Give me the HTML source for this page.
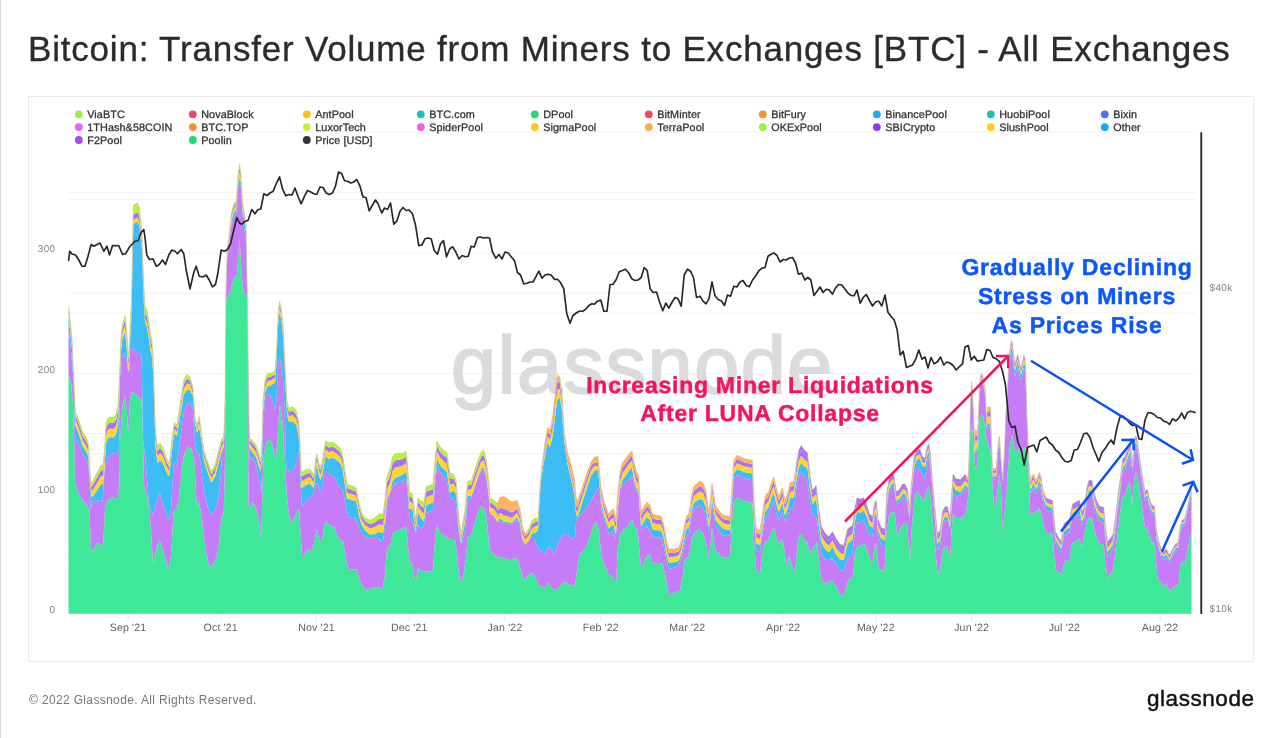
<!DOCTYPE html>
<html><head><meta charset="utf-8"><title>Bitcoin: Transfer Volume from Miners to Exchanges</title>
<style>
html,body{margin:0;padding:0;background:#fff;}
body{width:1280px;height:738px;position:relative;overflow:hidden;font-family:"Liberation Sans",sans-serif;}
#edge{position:absolute;left:0;top:0;width:1px;height:738px;background:#d9d9d9;}
h1{will-change:transform;position:absolute;left:27.9px;top:27.1px;margin:0;font-size:35px;line-height:44px;font-weight:400;color:#2b2b2b;white-space:nowrap;letter-spacing:0.8px;-webkit-text-stroke:0.35px #2b2b2b;}
#card{position:absolute;left:28px;top:96px;width:1224px;height:564px;border:1px solid #ebebeb;box-sizing:content-box;}
#foot{will-change:transform;position:absolute;left:28.5px;top:692.6px;font-size:12px;line-height:15px;color:#757575;letter-spacing:0.35px;white-space:nowrap;}
#logo{will-change:transform;position:absolute;right:25.6px;top:685px;font-size:22.5px;line-height:28px;color:#111;letter-spacing:0.55px;-webkit-text-stroke:0.45px #111;white-space:nowrap;}
svg{position:absolute;left:0;top:0;}
svg text{text-rendering:geometricPrecision;}
.lg{font-size:10.8px;fill:#333;stroke:#333;stroke-width:0.3px;letter-spacing:0.1px;}
.ax{font-size:10.6px;fill:#5f5f5f;letter-spacing:0.15px;}
.ay{font-size:9.9px;fill:#808080;letter-spacing:0.4px;}
.wm{font-size:81px;fill:#dbdbdb;stroke:#dbdbdb;stroke-width:1.9px;letter-spacing:1.5px;}
.red{font-size:23px;font-weight:700;fill:#f5145c;stroke:#f5145c;stroke-width:0.45px;letter-spacing:0.75px;}
.blue{font-size:23px;font-weight:700;fill:#0a57ff;stroke:#0a57ff;stroke-width:0.45px;letter-spacing:0.8px;}
</style></head><body>
<div id="edge"></div>
<h1>Bitcoin: Transfer Volume from Miners to Exchanges [BTC] - All Exchanges</h1>
<div id="card"></div>
<svg width="1280" height="738" viewBox="0 0 1280 738" font-family="Liberation Sans, sans-serif">
<line x1="68.5" x2="1195.5" y1="131.9" y2="131.9" stroke="#f2f2f2" stroke-width="1"/>
<line x1="68.5" x2="1195.5" y1="192.7" y2="192.7" stroke="#f2f2f2" stroke-width="1"/>
<line x1="68.5" x2="1195.5" y1="199.4" y2="199.4" stroke="#f2f2f2" stroke-width="1"/>
<line x1="68.5" x2="1195.5" y1="252.9" y2="252.9" stroke="#f2f2f2" stroke-width="1"/>
<line x1="68.5" x2="1195.5" y1="293" y2="293" stroke="#f2f2f2" stroke-width="1"/>
<line x1="68.5" x2="1195.5" y1="313" y2="313" stroke="#f2f2f2" stroke-width="1"/>
<line x1="68.5" x2="1195.5" y1="373.4" y2="373.4" stroke="#f2f2f2" stroke-width="1"/>
<line x1="68.5" x2="1195.5" y1="433.6" y2="433.6" stroke="#f2f2f2" stroke-width="1"/>
<line x1="68.5" x2="1195.5" y1="453.5" y2="453.5" stroke="#f2f2f2" stroke-width="1"/>
<line x1="68.5" x2="1195.5" y1="493.8" y2="493.8" stroke="#f2f2f2" stroke-width="1"/>
<line x1="68.5" x2="1195.5" y1="553.6" y2="553.6" stroke="#f2f2f2" stroke-width="1"/>
<line x1="68.5" x2="1195.5" y1="613.9" y2="613.9" stroke="#f2f2f2" stroke-width="1"/>
<circle cx="78.8" cy="114.3" r="3.9" fill="#9cf03c"/><text x="87.2" y="118.2" class="lg">ViaBTC</text>
<circle cx="192.8" cy="114.3" r="3.9" fill="#f5475e"/><text x="201.2" y="118.2" class="lg">NovaBlock</text>
<circle cx="306.8" cy="114.3" r="3.9" fill="#ffc107"/><text x="315.2" y="118.2" class="lg">AntPool</text>
<circle cx="420.8" cy="114.3" r="3.9" fill="#14c4b8"/><text x="429.2" y="118.2" class="lg">BTC.com</text>
<circle cx="534.8" cy="114.3" r="3.9" fill="#1ed873"/><text x="543.2" y="118.2" class="lg">DPool</text>
<circle cx="648.8" cy="114.3" r="3.9" fill="#f5475e"/><text x="657.2" y="118.2" class="lg">BitMinter</text>
<circle cx="762.8" cy="114.3" r="3.9" fill="#f98f2d"/><text x="771.2" y="118.2" class="lg">BitFury</text>
<circle cx="876.8" cy="114.3" r="3.9" fill="#1ea8f5"/><text x="885.2" y="118.2" class="lg">BinancePool</text>
<circle cx="990.8" cy="114.3" r="3.9" fill="#14c7aa"/><text x="999.2" y="118.2" class="lg">HuobiPool</text>
<circle cx="1104.8" cy="114.3" r="3.9" fill="#4c70f5"/><text x="1113.2" y="118.2" class="lg">Bixin</text>
<circle cx="78.8" cy="127.1" r="3.9" fill="#f55cea"/><text x="87.2" y="131.0" class="lg">1THash&amp;58COIN</text>
<circle cx="192.8" cy="127.1" r="3.9" fill="#f98f2d"/><text x="201.2" y="131.0" class="lg">BTC.TOP</text>
<circle cx="306.8" cy="127.1" r="3.9" fill="#c8f23a"/><text x="315.2" y="131.0" class="lg">LuxorTech</text>
<circle cx="420.8" cy="127.1" r="3.9" fill="#f55cea"/><text x="429.2" y="131.0" class="lg">SpiderPool</text>
<circle cx="534.8" cy="127.1" r="3.9" fill="#ffc61a"/><text x="543.2" y="131.0" class="lg">SigmaPool</text>
<circle cx="648.8" cy="127.1" r="3.9" fill="#ffa94d"/><text x="657.2" y="131.0" class="lg">TerraPool</text>
<circle cx="762.8" cy="127.1" r="3.9" fill="#9cf03c"/><text x="771.2" y="131.0" class="lg">OKExPool</text>
<circle cx="876.8" cy="127.1" r="3.9" fill="#8b3df5"/><text x="885.2" y="131.0" class="lg">SBICrypto</text>
<circle cx="990.8" cy="127.1" r="3.9" fill="#ffd01a"/><text x="999.2" y="131.0" class="lg">SlushPool</text>
<circle cx="1104.8" cy="127.1" r="3.9" fill="#12a8f5"/><text x="1113.2" y="131.0" class="lg">Other</text>
<circle cx="78.8" cy="140.0" r="3.9" fill="#a349f0"/><text x="87.2" y="143.9" class="lg">F2Pool</text>
<circle cx="192.8" cy="140.0" r="3.9" fill="#1cda78"/><text x="201.2" y="143.9" class="lg">Poolin</text>
<circle cx="306.8" cy="140.0" r="3.9" fill="#333333"/><text x="315.2" y="143.9" class="lg">Price [USD]</text>
<text x="451" y="392.5" class="wm">glassnode</text>
<path d="M68.5,375 L69,375.8 L71,381.8 L73,405 L74.5,450 L75,481.5 L79,494.4 L82.5,500.2 L87,505.2 L89.5,509 L91,547.6 L91.5,553.5 L97,542.8 L103,545.2 L105,509 L107.5,500.2 L111,497.2 L111.5,497.1 L117.5,499.5 L119.5,484 L120,440 L122.5,405 L125,396.2 L127,412.5 L128,430.5 L128.5,430 L130,400 L131.5,392.5 L132,391.4 L135,393.8 L138.5,397.2 L141.5,399.8 L142,408 L143,440 L144,485.2 L145,490.2 L146.5,495 L148.5,503 L149,507 L151,531 L153,562.8 L156.5,548.2 L159,539.8 L159.5,539.8 L168.5,568.2 L169,567.5 L171,555.5 L173.5,513.5 L174,509.1 L176.5,510.1 L177,508.9 L179,497.9 L182,465.3 L185,451.5 L188.5,446.8 L189,446.7 L191.5,448.8 L192,450.1 L194.5,461.5 L196.5,501.5 L197,505.7 L198.5,501 L199,501.6 L201.5,516 L206,552 L208.5,563 L210.5,567.3 L211,567.3 L217,556.5 L219,543.2 L221,519.6 L221.5,516.2 L223.5,514.2 L224,503 L225,459 L226,305 L226.5,299.5 L231,290 L233.5,277.9 L237,275.2 L239.5,239 L242.5,283.9 L244,293.2 L247,296 L247.5,309 L248.5,504 L249,507.3 L249.5,508.5 L252.5,502 L256,508.5 L258.5,518 L261,537 L261.5,529 L263,470 L264,453.8 L266.5,442.2 L269.5,438.8 L272.5,445 L275.5,460 L277.5,440 L279.5,405 L281,409.3 L283,427.5 L286.5,489.3 L287,496.5 L289,514.9 L291,522.3 L291.5,522.8 L294,518.4 L297,511.5 L299,509.3 L299.5,514 L302,556.5 L305,554 L307.5,550.2 L311,551 L311.5,550.4 L313.5,545.8 L314,543.9 L316.5,530.4 L317,530.1 L319.5,540.4 L321.5,541.8 L322,540.1 L324,526 L326,521.5 L326.5,521.4 L329,525.3 L332.5,526.5 L335,527.8 L338,538.5 L341,539 L343.5,543.5 L348,568.8 L348.5,570.2 L351.5,569.5 L356,569 L356.5,569.8 L361,583.2 L365,590.2 L375,587 L379.5,587.8 L380,589 L383,587 L385,574 L387,547.8 L390,546.5 L392.5,534 L395.5,531.5 L400,529 L403.5,527.8 L406,526.2 L406.5,529.1 L409.5,561.5 L412.5,564 L415.5,582.8 L418,567.8 L421,571.2 L421.5,571.5 L424,571 L427.5,571.5 L433,570.2 L435,539 L437,524 L440,532.8 L447,537.8 L451,538.9 L455,539 L456.5,549.2 L459,574.9 L461,581.9 L461.5,581.9 L463.5,574.9 L464,572 L466,556 L468,536.5 L471,535.3 L471.5,534.3 L475,521.5 L479,508.8 L481,506.8 L481.5,506.5 L483.5,506.5 L484,507.5 L486,515.5 L486.5,518.8 L490,550.2 L494,554.2 L497.5,557 L502.5,557.8 L507.5,559 L510,560.2 L517,557.8 L520,566.5 L523.5,579.3 L524,580 L531,573 L531.5,572.9 L533.5,573.9 L534,574.5 L539,585.3 L542.5,586.5 L545,589 L548,582.8 L554,589.9 L554.5,590.2 L557.5,589 L561.5,583.9 L565,582 L568,583.5 L571,585.8 L571.5,586 L575,585.2 L579.5,553.8 L582.5,551.5 L586,546.8 L590,536.5 L593.5,524.8 L594,523.8 L596,522.2 L596.5,522.7 L598.5,528.3 L601.5,557.1 L606,568.4 L608.5,573.5 L609,574.2 L612.5,576.5 L616,583.5 L616.5,577.5 L617.5,551.5 L620,534 L623.5,529.3 L627.5,526.5 L630,521.5 L632,519.5 L634,526.7 L637.5,529 L641,567.3 L641.5,569.6 L646.5,556 L650,555.2 L652.5,562.8 L657.5,562.8 L662.5,563.5 L665,574 L669,594 L669.5,595.1 L674,592.6 L680,590.2 L682.5,576.5 L685,559 L688.5,556.7 L689,555 L691.5,540.8 L693.5,534.8 L694,533.8 L699.5,528.5 L700,530.2 L703,532.8 L706,543.1 L708.5,558.6 L709,557.9 L712,527.8 L715.5,550.2 L722.5,557.8 L730,556.5 L732,521.5 L733.5,504.4 L734,501.2 L737,497.8 L740,498.5 L744,501.1 L752.5,502.8 L754,537.8 L756,567.8 L756.5,571.6 L760,572.8 L762.5,551.5 L765,541.5 L768.5,540.3 L769,539.4 L771.5,531 L773.5,527 L774,527.5 L776,535.5 L778.5,543.2 L779,543.7 L782.5,539 L785,554 L786,564 L786.5,565.5 L788.5,557.5 L789,557.2 L795,574 L797.5,544 L800,534 L802.5,535.2 L805,541.5 L807.5,542.8 L810,554 L813.5,547 L817,541.5 L821,576.9 L821.5,579.3 L825,584 L828.5,581.7 L832.5,580.2 L836.5,587 L840,594 L842.5,596 L845,591.5 L848.5,579.8 L849,578.9 L853,576.5 L855,551.5 L857.5,546.5 L865,544 L870,559 L872.5,561 L875,544 L876,543 L876.5,545.4 L878.5,566.4 L879,569.1 L881.5,570.2 L884.5,570.2 L886.5,532.2 L889,516.1 L891.5,512.7 L894.5,511.5 L897.5,536.5 L900,529 L903.5,524.3 L904,524 L907,523.5 L910,560.2 L912,524 L915,494 L917.5,491.5 L923.5,501.1 L924,500.5 L926.5,490.9 L928.5,486.5 L930.5,496.5 L935,544 L937.5,574 L940,570.2 L942.5,549 L945,546.5 L947.5,546.5 L950,562.8 L951.5,531.1 L953,514 L956,517.5 L956.5,517.8 L959.5,517.8 L960,519 L963,516.5 L966,511.9 L968.5,494.2 L970,442.9 L970.5,428.6 L971,422.8 L971.5,423.2 L972.5,431.2 L975,465 L976,470 L976.5,470 L977.5,465 L978.5,437.5 L979.5,422.5 L980,418.2 L982,414.6 L983.5,417.1 L986.5,438.5 L988,444.5 L990,447.5 L991,456.2 L992,476.7 L994,506.5 L996,502.1 L996.5,499.6 L999,477 L999.5,474.8 L1001,489.3 L1002.5,531.5 L1006.5,492 L1007.5,475 L1009.5,449.2 L1011.5,436.2 L1012,434.4 L1015.5,451.9 L1016,451.8 L1017.5,448.8 L1019.5,450.3 L1021.5,455.3 L1022,455.7 L1023.5,448.7 L1024,447.6 L1025.5,448.1 L1026,449.8 L1027.5,456.2 L1028.5,471.2 L1030,509 L1031,515 L1031.5,516.1 L1033.5,513.1 L1036.5,511.2 L1039.5,507.8 L1046,533 L1046.5,533.9 L1049.5,532.8 L1052.5,534 L1054,553.4 L1056,568.4 L1056.5,570.4 L1058.5,571.4 L1061,574.9 L1061.5,574.1 L1064,563.6 L1066,560.6 L1066.5,560.3 L1069.5,561.5 L1071,546.5 L1071.5,543.8 L1075,541.5 L1079.5,539 L1082,546.5 L1084.5,532.8 L1087,521 L1088.5,518.2 L1089,517.8 L1092,517.8 L1094.5,531.5 L1097,539 L1100,544 L1103.5,544 L1104,547 L1105,559 L1107.5,579 L1110,574 L1113,570.2 L1120.5,509 L1122.5,496.5 L1125,495.2 L1127.5,485.2 L1130,481.5 L1132,504 L1134.5,477.8 L1135.5,472.8 L1136,472.4 L1137.5,477.8 L1140,491.5 L1145,529 L1147.5,526.5 L1149.5,536.5 L1152,541.5 L1154.5,542.8 L1157.5,577.8 L1161.5,584.2 L1163.5,585.8 L1164,585.8 L1166,584.2 L1166.5,584.5 L1170,591.5 L1173,587.8 L1176,585.4 L1178.5,584.1 L1179,581.1 L1180.5,564 L1182.5,561.5 L1185,562.8 L1187.5,551.5 L1190,536.5 L1191,533.5 L1191.5,532.8 L1191.5,613.8 L68.5,613.8Z" fill="#3fe898" />
<path d="M68.5,330 L69,332.2 L71,350.2 L73.5,381.8 L75,435 L76.5,440.5 L87.5,462.5 L89.5,476.5 L90,483.5 L90.5,509 L92.5,501.5 L97.5,500.2 L102.5,501.5 L104.5,471.5 L107.5,457.8 L111,453.8 L111.5,453.5 L115,454 L118.5,451.7 L119.5,439 L120,376.4 L122.5,355 L125,352.5 L127,362.5 L128,372.5 L128.5,371.4 L129,371.6 L130,350 L131.5,347.9 L132,347.7 L135,350 L138.5,353.5 L141.5,356 L142,373 L143,440 L145,455 L149,502.5 L151,510.5 L153,515.2 L156,504.9 L159,492.5 L159.5,492.3 L165.5,511.5 L168.5,519.6 L169,519.1 L171,510.1 L173.5,466.8 L174,462.7 L177,465 L180,440 L184,411.8 L187,403.8 L190,402.5 L193,410 L195,440 L197,455 L199,452.8 L199.5,454.7 L203.5,487.1 L207.5,506.5 L210.5,513.4 L211,513.8 L213.5,511.7 L217.5,504 L220,484 L222.5,449.9 L223.5,447.8 L224,439.9 L224.5,436.5 L225,410.2 L226,299.6 L227,262.5 L231.5,224.2 L233.5,218.2 L234,217.2 L236,215.2 L236.5,211.4 L238,190 L239.5,177.8 L241,188.2 L242.5,215 L246,242.9 L247.5,309 L249,437 L249.5,458.9 L252.5,457.8 L256,463.6 L260,484 L261,491 L261.5,486.8 L262,475 L263,425 L265,400 L267.5,393.8 L271,394.9 L271.5,396 L275,410 L276.5,400 L278,365 L279.5,357.5 L281,361.8 L283,377.8 L285,420 L286,457.2 L286.5,467 L289,471.6 L291,472.6 L291.5,472.4 L294,468.3 L297.5,459 L299.5,449 L300.5,484 L302,506.5 L305,501.5 L307.5,499 L311,497.8 L311.5,497.2 L313.5,493.2 L315.5,484 L317.5,482.8 L320,491.5 L321.5,490.4 L324,475.9 L326,471.6 L326.5,471.3 L329,474.1 L332.5,475.2 L335,477.8 L338,485.2 L341,487.6 L341.5,488.2 L343.5,492.2 L346.5,509.9 L348.5,516.6 L351.5,517.8 L356,518.9 L361,532.1 L361.5,533 L365,537 L370,538.5 L375,537.8 L379.5,538.5 L380,541.5 L383,541 L385,526.5 L387,501.5 L390,492.8 L392.5,486.5 L395.5,483.5 L406,479.1 L406.5,481.5 L407.5,491.5 L409.5,516.5 L412.5,521.5 L415.5,534 L418,524 L421,528.2 L421.5,528.3 L423.5,526.7 L424,525.1 L426,514.1 L426.5,512.7 L430,511.5 L433,509 L435,484 L437,465.2 L440,471.5 L443.5,476.2 L447,481.5 L450,497.8 L453.5,498.9 L456,503.5 L459,535.1 L461,544.1 L461.5,544.5 L462.5,541.5 L465,530.2 L467.5,502.8 L471,498.1 L471.5,497 L479,474.8 L481,470.8 L481.5,470.2 L483.5,470.2 L484,471 L486,477 L486.5,479.6 L488.5,494.6 L490,513.8 L492,514.8 L495.5,518.3 L497.5,522 L498,521.2 L498.5,521 L500,522 L507.5,523.5 L510,524.5 L512.5,523.5 L517,520.2 L520,527.8 L522.5,540.2 L525,545.2 L528.5,540.9 L531,536.9 L531.5,536.8 L534,539.5 L539,549.2 L542.5,551.5 L545,554 L548,546.5 L551,548.8 L554,553.6 L554.5,553.2 L557.5,544 L561.5,536.3 L565,534 L568,535.2 L571,538.2 L571.5,538.5 L575,537.8 L576,522.8 L576.5,519 L577.5,519 L580,515.2 L584,511.2 L587.5,506.5 L591,500.7 L598,487.8 L599.5,491.5 L601.5,507.8 L603.5,517.8 L608.5,533.2 L609,533.8 L611,531.8 L611.5,531.6 L613.5,532.6 L615.5,538.2 L616,535.2 L617.5,513.1 L620,490.2 L622.5,485.2 L630,477.8 L632,476.5 L636,489.5 L638.5,493.6 L641,527 L641.5,530 L644,527.6 L647,526 L650,530.2 L652.5,536.5 L661,537.7 L661.5,538.5 L663.5,544.5 L666.5,560 L668.5,568 L669,568.9 L674,567.6 L678.5,565.4 L679,564.6 L681.5,557.8 L683.5,547.8 L686,537.5 L686.5,536.3 L689,534.2 L691.5,514.6 L694,508.8 L699.5,505.2 L700,506.5 L703,507.8 L706,515.8 L708.5,531.1 L709,530.8 L712,504 L715.5,525.2 L719,530.6 L722.5,535.2 L726,536 L730,535.2 L733.5,484.9 L734,481 L737,475.2 L740,475.2 L744,477.8 L748.5,479.4 L752.5,480.2 L754,517.6 L756,546.6 L756.5,550.3 L760,551.5 L762.5,534 L765,519 L768.5,514.3 L773.5,500.9 L774,501.5 L776.5,513.5 L778.5,519.5 L779,519.7 L782.5,511.5 L785,521.5 L787.5,516.5 L790,507.8 L793.5,508.9 L794,507 L796.5,487.6 L798.5,476.6 L799,475 L801,473 L801.5,473 L804.5,476.5 L807.5,481.5 L810,501.5 L812.5,514 L816,516.3 L816.5,518.2 L821.5,554.3 L825,559 L828.5,560.2 L832.5,559 L836,563.7 L840,570.2 L843.5,570.2 L844,569.5 L847.5,559 L852.5,554 L855,529 L857,521.5 L860,522.8 L863.5,520.4 L864,520.9 L869.5,535.2 L872.5,536.5 L874.5,516.5 L876,512.2 L876.5,514.7 L878,534 L881,544.4 L881.5,545.3 L885,546.5 L886.5,508.5 L889,492.2 L891.5,487.6 L893.5,486.6 L894,488.1 L896,501.1 L896.5,502.9 L898.5,503.9 L899,503.6 L902.5,497.8 L905,497.8 L907.5,504 L909.5,519 L911.5,491.8 L913.5,473.8 L914,471.1 L916,468.1 L916.5,467.8 L920,469 L922.5,475.2 L925,479 L927,463.1 L928.5,457.8 L930.5,466.5 L937.5,550.2 L940,546.5 L942.5,524 L945,520.2 L947.5,520.2 L950,527.8 L953,492.8 L956,496.2 L956.5,496.4 L959.5,495.2 L960,495.5 L965,488.3 L968,490.4 L969.5,452.8 L970.5,405.2 L971.5,388.6 L972.5,398.7 L973.5,418.9 L974.5,457.6 L975.5,450.6 L976,450.5 L977,452.5 L977.5,448.1 L979.5,393.1 L980.5,383.6 L981,382.1 L981.5,381.8 L983,385.2 L984,389 L985.5,399.5 L986.5,430 L987,424.9 L987.5,424.6 L988,427.1 L989.5,426.4 L990.5,427.4 L992.5,475.3 L993,478.9 L993.5,479.7 L995,479.5 L996,478.7 L996.5,475 L998,452.8 L999,444.5 L999.5,442.9 L1002,477.5 L1003,481.5 L1004.5,453.4 L1006,414.5 L1006.5,414.5 L1007,410.6 L1008,382.8 L1009.5,365.8 L1010.5,357.4 L1011.5,353 L1012.5,356.4 L1014,370 L1015,376.2 L1017.5,367.6 L1018,368 L1020,377.5 L1020.5,379.1 L1021,379.7 L1021.5,378.8 L1024,367.5 L1025,371.2 L1025.5,377.1 L1027,427.5 L1029,471.9 L1029.5,482.5 L1030.5,492.5 L1031,493.4 L1032,490.4 L1033.5,488.2 L1034,488.6 L1035.5,493.3 L1036,493.2 L1037.5,490.9 L1039,486.2 L1039.5,485.3 L1041,489.6 L1042.5,498.8 L1043.5,503.3 L1046,509.2 L1046.5,509.9 L1049.5,511.5 L1052.5,512.2 L1055.5,543.5 L1058.5,549.3 L1061,553.1 L1061.5,551.8 L1063.5,538.1 L1064,536.1 L1066.5,534 L1069.5,532.1 L1072.5,517.5 L1079.5,514.4 L1082,525.7 L1084,521.4 L1087,501.2 L1088.5,495.7 L1089,494.8 L1092,494.9 L1094.5,508.8 L1097,516.4 L1100,521.5 L1103.5,522.2 L1104,525.1 L1105,536.6 L1107.5,556.4 L1110,553.6 L1113,548.2 L1115.5,530.5 L1118,507.7 L1120.5,489.9 L1122.5,472.2 L1125,469.2 L1128,461.1 L1130.5,455.5 L1132.5,472.5 L1134.5,450.9 L1135.5,446.5 L1136,446.2 L1137.5,451.4 L1142.5,486.1 L1145,500.9 L1147.5,498.2 L1149.5,508 L1152,514.2 L1154.5,515.3 L1156.5,538.9 L1158.5,548.8 L1161,556.6 L1161.5,557.6 L1163.5,559.5 L1164,559.4 L1166,557.3 L1166.5,557.5 L1169.5,563 L1172.5,556.6 L1175.5,551.3 L1178,549.8 L1180,533.4 L1182,527 L1184.5,525.5 L1187.5,512.3 L1190,499.2 L1191,496 L1191.5,495.3 L1191.5,532.8 L1191,533.5 L1190,536.5 L1187.5,551.5 L1185,562.8 L1182.5,561.5 L1180.5,564 L1179,581.1 L1178.5,584.1 L1176,585.4 L1173,587.8 L1170,591.5 L1166.5,584.5 L1166,584.2 L1164,585.8 L1163.5,585.8 L1161.5,584.2 L1157.5,577.8 L1154.5,542.8 L1152,541.5 L1149.5,536.5 L1147.5,526.5 L1145,529 L1140,491.5 L1137.5,477.8 L1136,472.4 L1135.5,472.8 L1134.5,477.8 L1132,504 L1130,481.5 L1127.5,485.2 L1125,495.2 L1122.5,496.5 L1120.5,509 L1113,570.2 L1110,574 L1107.5,579 L1105,559 L1104,547 L1103.5,544 L1100,544 L1097,539 L1094.5,531.5 L1092,517.8 L1089,517.8 L1088.5,518.2 L1087,521 L1084.5,532.8 L1082,546.5 L1079.5,539 L1075,541.5 L1071.5,543.8 L1071,546.5 L1069.5,561.5 L1066.5,560.3 L1066,560.6 L1064,563.6 L1061.5,574.1 L1061,574.9 L1058.5,571.4 L1056.5,570.4 L1056,568.4 L1054,553.4 L1052.5,534 L1049.5,532.8 L1046.5,533.9 L1046,533 L1039.5,507.8 L1036.5,511.2 L1033.5,513.1 L1031.5,516.1 L1031,515 L1030,509 L1028.5,471.2 L1027.5,456.2 L1026,449.8 L1025.5,448.1 L1024,447.6 L1023.5,448.7 L1022,455.7 L1021.5,455.3 L1019.5,450.3 L1017.5,448.8 L1016,451.8 L1015.5,451.9 L1012,434.4 L1011.5,436.2 L1009.5,449.2 L1007.5,475 L1006.5,492 L1002.5,531.5 L1001,489.3 L999.5,474.8 L999,477 L996.5,499.6 L996,502.1 L994,506.5 L992,476.7 L991,456.2 L990,447.5 L988,444.5 L986.5,438.5 L983.5,417.1 L982,414.6 L980,418.2 L979.5,422.5 L978.5,437.5 L977.5,465 L976.5,470 L976,470 L975,465 L972.5,431.2 L971.5,423.2 L971,422.8 L970.5,428.6 L970,442.9 L968.5,494.2 L966,511.9 L963,516.5 L960,519 L959.5,517.8 L956.5,517.8 L956,517.5 L953,514 L951.5,531.1 L950,562.8 L947.5,546.5 L945,546.5 L942.5,549 L940,570.2 L937.5,574 L935,544 L930.5,496.5 L928.5,486.5 L926.5,490.9 L924,500.5 L923.5,501.1 L917.5,491.5 L915,494 L912,524 L910,560.2 L907,523.5 L904,524 L903.5,524.3 L900,529 L897.5,536.5 L894.5,511.5 L891.5,512.7 L889,516.1 L886.5,532.2 L884.5,570.2 L881.5,570.2 L879,569.1 L878.5,566.4 L876.5,545.4 L876,543 L875,544 L872.5,561 L870,559 L865,544 L857.5,546.5 L855,551.5 L853,576.5 L849,578.9 L848.5,579.8 L845,591.5 L842.5,596 L840,594 L836.5,587 L832.5,580.2 L828.5,581.7 L825,584 L821.5,579.3 L821,576.9 L817,541.5 L813.5,547 L810,554 L807.5,542.8 L805,541.5 L802.5,535.2 L800,534 L797.5,544 L795,574 L789,557.2 L788.5,557.5 L786.5,565.5 L786,564 L785,554 L782.5,539 L779,543.7 L778.5,543.2 L776,535.5 L774,527.5 L773.5,527 L771.5,531 L769,539.4 L768.5,540.3 L765,541.5 L762.5,551.5 L760,572.8 L756.5,571.6 L756,567.8 L754,537.8 L752.5,502.8 L744,501.1 L740,498.5 L737,497.8 L734,501.2 L733.5,504.4 L732,521.5 L730,556.5 L722.5,557.8 L715.5,550.2 L712,527.8 L709,557.9 L708.5,558.6 L706,543.1 L703,532.8 L700,530.2 L699.5,528.5 L694,533.8 L693.5,534.8 L691.5,540.8 L689,555 L688.5,556.7 L685,559 L682.5,576.5 L680,590.2 L674,592.6 L669.5,595.1 L669,594 L665,574 L662.5,563.5 L657.5,562.8 L652.5,562.8 L650,555.2 L646.5,556 L641.5,569.6 L641,567.3 L637.5,529 L634,526.7 L632,519.5 L630,521.5 L627.5,526.5 L623.5,529.3 L620,534 L617.5,551.5 L616.5,577.5 L616,583.5 L612.5,576.5 L609,574.2 L608.5,573.5 L606,568.4 L601.5,557.1 L598.5,528.3 L596.5,522.7 L596,522.2 L594,523.8 L593.5,524.8 L590,536.5 L586,546.8 L582.5,551.5 L579.5,553.8 L575,585.2 L571.5,586 L571,585.8 L568,583.5 L565,582 L561.5,583.9 L557.5,589 L554.5,590.2 L554,589.9 L548,582.8 L545,589 L542.5,586.5 L539,585.3 L534,574.5 L533.5,573.9 L531.5,572.9 L531,573 L524,580 L523.5,579.3 L520,566.5 L517,557.8 L510,560.2 L507.5,559 L502.5,557.8 L497.5,557 L494,554.2 L490,550.2 L486.5,518.8 L486,515.5 L484,507.5 L483.5,506.5 L481.5,506.5 L481,506.8 L479,508.8 L475,521.5 L471.5,534.3 L471,535.3 L468,536.5 L466,556 L464,572 L463.5,574.9 L461.5,581.9 L461,581.9 L459,574.9 L456.5,549.2 L455,539 L451,538.9 L447,537.8 L440,532.8 L437,524 L435,539 L433,570.2 L427.5,571.5 L424,571 L421.5,571.5 L421,571.2 L418,567.8 L415.5,582.8 L412.5,564 L409.5,561.5 L406.5,529.1 L406,526.2 L403.5,527.8 L400,529 L395.5,531.5 L392.5,534 L390,546.5 L387,547.8 L385,574 L383,587 L380,589 L379.5,587.8 L375,587 L365,590.2 L361,583.2 L356.5,569.8 L356,569 L351.5,569.5 L348.5,570.2 L348,568.8 L343.5,543.5 L341,539 L338,538.5 L335,527.8 L332.5,526.5 L329,525.3 L326.5,521.4 L326,521.5 L324,526 L322,540.1 L321.5,541.8 L319.5,540.4 L317,530.1 L316.5,530.4 L314,543.9 L313.5,545.8 L311.5,550.4 L311,551 L307.5,550.2 L305,554 L302,556.5 L299.5,514 L299,509.3 L297,511.5 L294,518.4 L291.5,522.8 L291,522.3 L289,514.9 L287,496.5 L286.5,489.3 L283,427.5 L281,409.3 L279.5,405 L277.5,440 L275.5,460 L272.5,445 L269.5,438.8 L266.5,442.2 L264,453.8 L263,470 L261.5,529 L261,537 L258.5,518 L256,508.5 L252.5,502 L249.5,508.5 L249,507.3 L248.5,504 L247.5,309 L247,296 L244,293.2 L242.5,283.9 L239.5,239 L237,275.2 L233.5,277.9 L231,290 L226.5,299.5 L226,305 L225,459 L224,503 L223.5,514.2 L221.5,516.2 L221,519.6 L219,543.2 L217,556.5 L211,567.3 L210.5,567.3 L208.5,563 L206,552 L201.5,516 L199,501.6 L198.5,501 L197,505.7 L196.5,501.5 L194.5,461.5 L192,450.1 L191.5,448.8 L189,446.7 L188.5,446.8 L185,451.5 L182,465.3 L179,497.9 L177,508.9 L176.5,510.1 L174,509.1 L173.5,513.5 L171,555.5 L169,567.5 L168.5,568.2 L159.5,539.8 L159,539.8 L156.5,548.2 L153,562.8 L151,531 L149,507 L148.5,503 L146.5,495 L145,490.2 L144,485.2 L143,440 L142,408 L141.5,399.8 L138.5,397.2 L135,393.8 L132,391.4 L131.5,392.5 L130,400 L128.5,430 L128,430.5 L127,412.5 L125,396.2 L122.5,405 L120,440 L119.5,484 L117.5,499.5 L111.5,497.1 L111,497.2 L107.5,500.2 L105,509 L103,545.2 L97,542.8 L91.5,553.5 L91,547.6 L89.5,509 L87,505.2 L82.5,500.2 L79,494.4 L75,481.5 L74.5,450 L73,405 L71,381.8 L69,375.8 L68.5,375Z" fill="#c67cf6" />
<path d="M68.5,317.2 L69,319.7 L72,348.5 L75.5,425.8 L76,427.4 L77.5,430.4 L83,447 L85.5,450.6 L88,455.7 L90,483.5 L91.5,496.5 L93,496.5 L101,484 L101.5,483.7 L103,484.5 L104.5,468.4 L106,443.7 L107.5,438.5 L110,437 L113.5,437.5 L114,437.1 L116,434.1 L117,430 L118,423.8 L119.5,392 L121,350.7 L122.5,338.2 L125,332.5 L126.5,344.8 L128,367.6 L129,371.6 L130.5,333.7 L131.5,318.3 L133,238.9 L133.5,225.5 L134,223.4 L135,223.1 L137.5,221.5 L139.5,226.2 L142,250.1 L143.5,296.7 L145,322.2 L147,327 L148.5,335.6 L150.5,351 L152,357 L153,371 L153.5,383 L155.5,447 L157.5,463.2 L160,460 L163,463.2 L166,471.1 L169,476.2 L169.5,474.2 L172,450.4 L174,435.6 L174.5,433.9 L177,436 L183.5,395.9 L184,394.1 L187,390.2 L190,389.7 L193,396.8 L195,424.6 L196,427.2 L197,432.7 L199,427.7 L199.5,429.3 L202,444 L204,460.8 L207.5,472 L211,482.1 L211.5,482.4 L215,477 L221,453.8 L221.5,452.1 L223.5,447.8 L224,439.9 L225,410.2 L226,299.6 L227,259 L228.5,248.3 L231.5,220.6 L233.5,213.6 L234,212.4 L236,209.4 L236.5,205.4 L238,184 L239.5,177.8 L241,182.4 L242.5,208.7 L246,231.2 L247.5,309 L249,428.5 L249.5,447.6 L252,452 L256,456.8 L260.5,471.5 L261,468.3 L262,452.3 L263,412.4 L265,392.4 L267.5,386.2 L271,385.3 L275,382.8 L276.5,361.3 L278,326.1 L279.5,312.4 L281,318.1 L281.5,321.4 L283,334.9 L287,414.2 L288.5,420.6 L289,421.6 L292.5,421.3 L296,424.6 L298.5,434.1 L300,455.2 L301,481.3 L301.5,487.7 L310,483.2 L313.5,487.9 L314,486.1 L315.5,472.7 L316.5,466.8 L317,466.4 L319,476 L320.5,480.3 L322.5,474 L325.5,455.7 L329,458.9 L332.5,457.6 L336,459.5 L340,462.8 L342.5,468.4 L347,498.4 L356,501.2 L356.5,502.6 L359,515.7 L361.5,524.8 L365,530.2 L370,534.6 L375,533.9 L379.5,531.3 L380,532 L383,533.2 L385,519.9 L387,498.6 L390,492.8 L392.5,481.3 L395.5,477.4 L400,475.9 L403.5,474.1 L406,471.7 L406.5,473.7 L407.5,483.2 L409.5,508.9 L412.5,508.7 L415.5,531.8 L418,512.3 L421,517.9 L423.5,521 L424,519.9 L426,506.8 L426.5,505 L433,502.2 L435,477.1 L437,459 L440,465 L443.5,469 L447,472.3 L450,492.8 L453.5,490.7 L454,491 L456,494.2 L456.5,498 L459,530.1 L461,542.2 L461.5,542.3 L462.5,534.9 L465,521.4 L467.5,495.4 L471,496.3 L471.5,495.6 L478.5,475.4 L481,469.3 L481.5,468.6 L483.5,467.8 L484,468.6 L486,475.1 L486.5,477.9 L488.5,493.4 L490,513.8 L494,515.5 L497.5,522 L500,518 L504,521.6 L507.5,521.6 L510,522.8 L512,522.5 L512.5,522.3 L517,516.9 L520,523.1 L522.5,538.6 L525,544 L528.5,540.9 L532,533.4 L535,532.8 L538,530.3 L540,495.3 L541,482.6 L542,473.6 L545,455.2 L547.5,442.5 L550,447.2 L552.5,437 L557,401.1 L558,398.8 L560,397.9 L562,411.2 L564,439.2 L567.5,464.6 L570,474.2 L574.5,494.8 L576,513.6 L577.5,517.6 L587.5,486.1 L591,476 L594.5,470.3 L598,470.2 L601,499.5 L601.5,503.1 L604,515.4 L608.5,528.3 L609,528.6 L611.5,525.6 L613.5,525 L614,526.2 L615.5,534 L616,532.1 L617.5,513.1 L620,488.6 L622.5,480.2 L630,469.6 L632,467.8 L634,478.9 L636,486.5 L636.5,487.8 L638.5,490.4 L639,494.9 L640,511.7 L641,523.5 L641.5,526 L644,521.2 L647,517 L650,520.2 L652.5,529 L656,530.2 L661,530.5 L661.5,531.3 L663.5,537.5 L666.5,554 L668.5,561.8 L669,562.8 L674,562.3 L678.5,560.9 L679,560.1 L681.5,553.1 L686,530.2 L686.5,528.9 L689,526.9 L691.5,510.5 L693.5,503.4 L694,502.4 L700,499 L703,500.1 L706,507.5 L708.5,525.6 L709,525.7 L710.5,514.7 L712,498.1 L715.5,519.8 L718.5,523.7 L722.5,528.2 L726,529.6 L730,530.2 L733.5,477.4 L734,473.6 L737,469 L744,471.9 L752.5,473.4 L754,513.2 L756,539.8 L756.5,543.2 L760,545.2 L765,511.9 L768.5,507.4 L771.5,497.9 L773.5,493.1 L774,493.6 L776,502.5 L778.5,511.3 L779,511.5 L782.5,503.1 L785,515.4 L787.5,509.1 L790,498.3 L793.5,497.7 L794,496 L796,482.4 L798.5,468.7 L799,466.9 L801,463.2 L801.5,463 L804.5,466.6 L807.5,468 L810,489.7 L812.5,504.1 L816,500 L816.5,502.2 L819,525.7 L821.5,542.3 L825,548.8 L828.5,552.1 L829,552 L832.5,547.1 L836.5,554.7 L840,559.2 L843.5,560.2 L844,559.2 L847.5,543.7 L852.5,539.6 L855,520.6 L857,511.7 L860,512.8 L863.5,510.8 L864,511.1 L866.5,515.9 L869.5,525.6 L872.5,527.5 L874.5,515 L876,511.1 L876.5,513.3 L878,530 L881,538.1 L881.5,538.8 L885,540 L886.5,505.4 L888.5,490.9 L889,488.6 L891,485.1 L893.5,483 L894,484.5 L896,498.7 L896.5,500.4 L898.5,499.6 L899,499.2 L902.5,493.7 L905,494 L907.5,499 L909.5,516.5 L911.5,491.5 L913.5,471.5 L914,468.1 L916,461.1 L916.5,460.1 L920,458.6 L922.5,465.8 L925,466.8 L927,455.9 L928.5,451.6 L930.5,463.1 L932.5,490.9 L937.5,544 L940,540.2 L942.5,521.5 L945,516.5 L947.5,516.6 L950,527.1 L953,485.2 L956,490.3 L956.5,490.8 L959.5,491.4 L960,492.5 L965,485.3 L968,487.4 L969.5,449.8 L970.5,402.2 L971.5,385.6 L972.5,395.7 L973.5,415.9 L974.5,454.6 L975.5,447.6 L976,447.5 L977,449.5 L977.5,445.1 L979.5,390.1 L980.5,380.6 L981,379.1 L981.5,378.8 L983,382.2 L984,386 L985.5,396.5 L986.5,427 L987,421.9 L987.5,421.6 L988,424.1 L989.5,423.4 L990.5,424.4 L992.5,472.3 L993,475.9 L993.5,476.7 L995,476.5 L996,475.7 L996.5,472 L998,449.8 L999,441.5 L999.5,439.9 L1002,474.5 L1003,478.5 L1004.5,450.4 L1006,411.5 L1006.5,411.5 L1007,407.6 L1008,379.8 L1009.5,360.9 L1010.5,351.9 L1011.5,347.5 L1012.5,350.9 L1014,364.5 L1015,370.8 L1017.5,362.1 L1018,362.5 L1020,372 L1020.5,373.6 L1021,374.2 L1021.5,373.2 L1024,362 L1025,365.8 L1025.5,371.6 L1027,422 L1029,467.4 L1029.5,478 L1030.5,488 L1031,488.9 L1032,485.9 L1033.5,483.7 L1034,484.1 L1035.5,488.8 L1036,488.7 L1037.5,486.4 L1039,481.7 L1039.5,480.8 L1041,485.1 L1042.5,494.3 L1043.5,498.8 L1046,504.7 L1046.5,505.4 L1049.5,507 L1052.5,507.8 L1055.5,539 L1058.5,544.8 L1061,548.6 L1061.5,547.3 L1063.5,533.6 L1064,531.6 L1066.5,529.5 L1069.5,527.6 L1072.5,513 L1079.5,509.9 L1082,521.2 L1084,516.9 L1087,496.7 L1088.5,491.2 L1089,490.2 L1092,490.4 L1094.5,504.3 L1097,511.9 L1100,517 L1103.5,517.7 L1104,520.6 L1105,532.1 L1107.5,551.9 L1110,549.1 L1113,543.8 L1115.5,526 L1118,503.2 L1120.5,485.4 L1122.5,467.7 L1125,464.7 L1128,456.6 L1130.5,451.1 L1132.5,468.2 L1134.5,446.8 L1135.5,442.4 L1136,442.1 L1137.5,447.5 L1142.5,482.5 L1145,497.5 L1147.5,495 L1149.5,505 L1152,511.2 L1154.5,512.4 L1156.5,536 L1158.5,545.9 L1161,553.8 L1161.5,554.7 L1163.5,556.6 L1164,556.6 L1166,554.5 L1166.5,554.7 L1169.5,560.3 L1172.5,553.8 L1175.5,548.6 L1178,547.2 L1180,530.8 L1182,524.4 L1184.5,522.9 L1187.5,509.8 L1190,496.7 L1191,493.5 L1191.5,492.8 L1191.5,495.3 L1191,496 L1190,499.2 L1187.5,512.3 L1184.5,525.5 L1182,527 L1180,533.4 L1178,549.8 L1175.5,551.3 L1172.5,556.6 L1169.5,563 L1166.5,557.5 L1166,557.3 L1164,559.4 L1163.5,559.5 L1161.5,557.6 L1161,556.6 L1158.5,548.8 L1156.5,538.9 L1154.5,515.3 L1152,514.2 L1149.5,508 L1147.5,498.2 L1145,500.9 L1142.5,486.1 L1137.5,451.4 L1136,446.2 L1135.5,446.5 L1134.5,450.9 L1132.5,472.5 L1130.5,455.5 L1128,461.1 L1125,469.2 L1122.5,472.2 L1120.5,489.9 L1118,507.7 L1115.5,530.5 L1113,548.2 L1110,553.6 L1107.5,556.4 L1105,536.6 L1104,525.1 L1103.5,522.2 L1100,521.5 L1097,516.4 L1094.5,508.8 L1092,494.9 L1089,494.8 L1088.5,495.7 L1087,501.2 L1084,521.4 L1082,525.7 L1079.5,514.4 L1072.5,517.5 L1069.5,532.1 L1066.5,534 L1064,536.1 L1063.5,538.1 L1061.5,551.8 L1061,553.1 L1058.5,549.3 L1055.5,543.5 L1052.5,512.2 L1049.5,511.5 L1046.5,509.9 L1046,509.2 L1043.5,503.3 L1042.5,498.8 L1041,489.6 L1039.5,485.3 L1039,486.2 L1037.5,490.9 L1036,493.2 L1035.5,493.3 L1034,488.6 L1033.5,488.2 L1032,490.4 L1031,493.4 L1030.5,492.5 L1029.5,482.5 L1029,471.9 L1027,427.5 L1025.5,377.1 L1025,371.2 L1024,367.5 L1021.5,378.8 L1021,379.7 L1020.5,379.1 L1020,377.5 L1018,368 L1017.5,367.6 L1015,376.2 L1014,370 L1012.5,356.4 L1011.5,353 L1010.5,357.4 L1009.5,365.8 L1008,382.8 L1007,410.6 L1006.5,414.5 L1006,414.5 L1004.5,453.4 L1003,481.5 L1002,477.5 L999.5,442.9 L999,444.5 L998,452.8 L996.5,475 L996,478.7 L995,479.5 L993.5,479.7 L993,478.9 L992.5,475.3 L990.5,427.4 L989.5,426.4 L988,427.1 L987.5,424.6 L987,424.9 L986.5,430 L985.5,399.5 L984,389 L983,385.2 L981.5,381.8 L981,382.1 L980.5,383.6 L979.5,393.1 L977.5,448.1 L977,452.5 L976,450.5 L975.5,450.6 L974.5,457.6 L973.5,418.9 L972.5,398.7 L971.5,388.6 L970.5,405.2 L969.5,452.8 L968,490.4 L965,488.3 L960,495.5 L959.5,495.2 L956.5,496.4 L956,496.2 L953,492.8 L950,527.8 L947.5,520.2 L945,520.2 L942.5,524 L940,546.5 L937.5,550.2 L930.5,466.5 L928.5,457.8 L927,463.1 L925,479 L922.5,475.2 L920,469 L916.5,467.8 L916,468.1 L914,471.1 L913.5,473.8 L911.5,491.8 L909.5,519 L907.5,504 L905,497.8 L902.5,497.8 L899,503.6 L898.5,503.9 L896.5,502.9 L896,501.1 L894,488.1 L893.5,486.6 L891.5,487.6 L889,492.2 L886.5,508.5 L885,546.5 L881.5,545.3 L881,544.4 L878,534 L876.5,514.7 L876,512.2 L874.5,516.5 L872.5,536.5 L869.5,535.2 L864,520.9 L863.5,520.4 L860,522.8 L857,521.5 L855,529 L852.5,554 L847.5,559 L844,569.5 L843.5,570.2 L840,570.2 L836,563.7 L832.5,559 L828.5,560.2 L825,559 L821.5,554.3 L816.5,518.2 L816,516.3 L812.5,514 L810,501.5 L807.5,481.5 L804.5,476.5 L801.5,473 L801,473 L799,475 L798.5,476.6 L796.5,487.6 L794,507 L793.5,508.9 L790,507.8 L787.5,516.5 L785,521.5 L782.5,511.5 L779,519.7 L778.5,519.5 L776.5,513.5 L774,501.5 L773.5,500.9 L768.5,514.3 L765,519 L762.5,534 L760,551.5 L756.5,550.3 L756,546.6 L754,517.6 L752.5,480.2 L748.5,479.4 L744,477.8 L740,475.2 L737,475.2 L734,481 L733.5,484.9 L730,535.2 L726,536 L722.5,535.2 L719,530.6 L715.5,525.2 L712,504 L709,530.8 L708.5,531.1 L706,515.8 L703,507.8 L700,506.5 L699.5,505.2 L694,508.8 L691.5,514.6 L689,534.2 L686.5,536.3 L686,537.5 L683.5,547.8 L681.5,557.8 L679,564.6 L678.5,565.4 L674,567.6 L669,568.9 L668.5,568 L666.5,560 L663.5,544.5 L661.5,538.5 L661,537.7 L652.5,536.5 L650,530.2 L647,526 L644,527.6 L641.5,530 L641,527 L638.5,493.6 L636,489.5 L632,476.5 L630,477.8 L622.5,485.2 L620,490.2 L617.5,513.1 L616,535.2 L615.5,538.2 L613.5,532.6 L611.5,531.6 L611,531.8 L609,533.8 L608.5,533.2 L603.5,517.8 L601.5,507.8 L599.5,491.5 L598,487.8 L591,500.7 L587.5,506.5 L584,511.2 L580,515.2 L577.5,519 L576.5,519 L576,522.8 L575,537.8 L571.5,538.5 L571,538.2 L568,535.2 L565,534 L561.5,536.3 L557.5,544 L554.5,553.2 L554,553.6 L551,548.8 L548,546.5 L545,554 L542.5,551.5 L539,549.2 L534,539.5 L531.5,536.8 L531,536.9 L528.5,540.9 L525,545.2 L522.5,540.2 L520,527.8 L517,520.2 L512.5,523.5 L510,524.5 L507.5,523.5 L500,522 L498.5,521 L498,521.2 L497.5,522 L495.5,518.3 L492,514.8 L490,513.8 L488.5,494.6 L486.5,479.6 L486,477 L484,471 L483.5,470.2 L481.5,470.2 L481,470.8 L479,474.8 L471.5,497 L471,498.1 L467.5,502.8 L465,530.2 L462.5,541.5 L461.5,544.5 L461,544.1 L459,535.1 L456,503.5 L453.5,498.9 L450,497.8 L447,481.5 L443.5,476.2 L440,471.5 L437,465.2 L435,484 L433,509 L430,511.5 L426.5,512.7 L426,514.1 L424,525.1 L423.5,526.7 L421.5,528.3 L421,528.2 L418,524 L415.5,534 L412.5,521.5 L409.5,516.5 L407.5,491.5 L406.5,481.5 L406,479.1 L395.5,483.5 L392.5,486.5 L390,492.8 L387,501.5 L385,526.5 L383,541 L380,541.5 L379.5,538.5 L375,537.8 L370,538.5 L365,537 L361.5,533 L361,532.1 L356,518.9 L351.5,517.8 L348.5,516.6 L346.5,509.9 L343.5,492.2 L341.5,488.2 L341,487.6 L338,485.2 L335,477.8 L332.5,475.2 L329,474.1 L326.5,471.3 L326,471.6 L324,475.9 L321.5,490.4 L320,491.5 L317.5,482.8 L315.5,484 L313.5,493.2 L311.5,497.2 L311,497.8 L307.5,499 L305,501.5 L302,506.5 L300.5,484 L299.5,449 L297.5,459 L294,468.3 L291.5,472.4 L291,472.6 L289,471.6 L286.5,467 L286,457.2 L285,420 L283,377.8 L281,361.8 L279.5,357.5 L278,365 L276.5,400 L275,410 L271.5,396 L271,394.9 L267.5,393.8 L265,400 L263,425 L262,475 L261.5,486.8 L261,491 L260,484 L256,463.6 L252.5,457.8 L249.5,458.9 L249,437 L247.5,309 L246,242.9 L242.5,215 L241,188.2 L239.5,177.8 L238,190 L236.5,211.4 L236,215.2 L234,217.2 L233.5,218.2 L231.5,224.2 L227,262.5 L226,299.6 L225,410.2 L224.5,436.5 L224,439.9 L223.5,447.8 L222.5,449.9 L220,484 L217.5,504 L213.5,511.7 L211,513.8 L210.5,513.4 L207.5,506.5 L203.5,487.1 L199.5,454.7 L199,452.8 L197,455 L195,440 L193,410 L190,402.5 L187,403.8 L184,411.8 L180,440 L177,465 L174,462.7 L173.5,466.8 L171,510.1 L169,519.1 L168.5,519.6 L165.5,511.5 L159.5,492.3 L159,492.5 L156,504.9 L153,515.2 L151,510.5 L149,502.5 L145,455 L143,440 L142,373 L141.5,356 L138.5,353.5 L135,350 L132,347.7 L131.5,347.9 L130,350 L129,371.6 L128.5,371.4 L128,372.5 L127,362.5 L125,352.5 L122.5,355 L120,376.4 L119.5,439 L118.5,451.7 L115,454 L111.5,453.5 L111,453.8 L107.5,457.8 L104.5,471.5 L102.5,501.5 L97.5,500.2 L92.5,501.5 L90.5,509 L90,483.5 L89.5,476.5 L87.5,462.5 L76.5,440.5 L75,435 L73.5,381.8 L71,350.2 L69,332.2 L68.5,330Z" fill="#3cbdf6" />
<path d="M68.5,312.6 L69,315 L72,343.9 L75.5,420.2 L77.5,424.4 L83,440.9 L85.5,444.5 L88,449.4 L90,477.8 L91.5,491 L93,489.8 L101,476 L101.5,475.7 L103,476.4 L104.5,460.2 L106,435.4 L107.5,430.2 L110,428.6 L113.5,429.1 L114,428.7 L116,425.7 L117,421.6 L118,415.9 L119.5,384.9 L121,344.4 L122.5,332.2 L125,325.4 L126.5,337.5 L128,360.2 L129,365 L130.5,328.4 L131.5,313.8 L133,234.8 L133.5,221.4 L134,219.2 L135,218.9 L137.5,217.5 L139.5,222.2 L142,246.2 L143.5,292.9 L145,318.4 L147,321.9 L149,332.5 L150.5,343.9 L152,349.9 L153,363.9 L153.5,375.9 L155.5,439.9 L157.5,456.1 L160,452.9 L163,456.6 L166,465 L169,470.8 L169.5,468.8 L172,445.3 L174,430.6 L174.5,429 L177,431.4 L183.5,389.9 L184,388 L187,383.5 L190,384.3 L193,392.9 L195,421.6 L196,424.7 L197,429.5 L199,423 L199.5,424.3 L202,440.6 L204,456.6 L207.5,467.5 L211,477.3 L211.5,477.5 L215,472 L221,448.4 L221.5,446.8 L223.5,443.1 L224,435.3 L225,405.9 L226,295.6 L227,255.2 L228.5,244.5 L231.5,216.8 L233.5,209.8 L234,208.6 L236,205.6 L236.5,201.6 L238,180.2 L239.5,171.9 L241,178.6 L242.5,205 L246,227.9 L247.5,305.2 L249,424.3 L249.5,443.3 L252,446.9 L256,451.7 L260.5,466.3 L261,463.1 L262,447.2 L263,407.2 L265,387.2 L267.5,381 L271,380.2 L275,377.9 L276.5,356.6 L278,321.5 L279.5,307.7 L281,313.3 L283,329.8 L287,408.6 L288.5,414.9 L289,415.9 L292.5,415.2 L296,418.4 L298.5,427.7 L300,448.8 L301,474.9 L301.5,481.3 L306.5,478.5 L310,477.1 L313.5,482.3 L314,480.5 L315.5,467.4 L316.5,461.6 L317,461.3 L319,470.6 L320.5,474.7 L322.5,468.1 L325.5,449.4 L329,452.2 L332.5,451 L336,453.2 L340,456.6 L342.5,462.2 L347,492.4 L356,495.5 L356.5,497 L359,510.2 L361.5,519.4 L365,525 L370,528.6 L375,527.1 L379.5,523.8 L380,524.4 L383,525 L385,511.1 L387,489.3 L390,482.8 L392.5,470.9 L395.5,467.3 L400,466.5 L403.5,465.2 L406,463.1 L406.5,465.2 L407.5,475.1 L409.5,501.6 L412.5,502.5 L415.5,526.5 L418,506.2 L421,510.9 L423.5,513.3 L424,512 L426,498.9 L426.5,497.2 L433,494.6 L435,469.5 L437,451.4 L440,457.2 L443.5,461 L447,464.1 L450,484.4 L453.5,483.7 L454,484.1 L456,488.1 L459,525.1 L461,538 L461.5,538 L462.5,530.3 L465,516.2 L467.5,489.6 L471,489.6 L471.5,488.8 L478.5,468.3 L481,462.1 L481.5,461.4 L483.5,460.5 L484,461.3 L486,468 L486.5,470.8 L488.5,486.5 L490,507 L494,509.2 L497,513.5 L497.5,515 L499,514.6 L500,512.8 L504,515.4 L507.5,515.9 L510,517.4 L512,517.4 L512.5,517.3 L517,512.7 L520,519.6 L522.5,533.8 L525,539.8 L528.5,536 L532,527.9 L535,526.7 L538,525 L540,490.5 L542,469.4 L545,449.9 L547.5,436.2 L550,440 L552.5,428.8 L557,391.2 L558,388.5 L560,389.3 L561,396.9 L562,405.3 L564,436.2 L567.5,461.6 L570,470.6 L574.5,490.8 L576,509.5 L577.5,512.2 L579,506.6 L587.5,480.3 L591,470.5 L592,468.7 L594.5,466.1 L595,466.3 L598,466.1 L601,494.7 L604,509.4 L608.5,522 L609,522.3 L611.5,519.1 L613.5,518.3 L614,519.5 L615.5,527.2 L616,525.3 L617.5,506.1 L620,481.4 L622.5,472.9 L630,462.6 L632,460.7 L634,472 L636,479.8 L636.5,481.1 L638.5,483.9 L639,488.4 L640,505.3 L641,517.2 L641.5,519.7 L644,514.9 L647,510.7 L650,514 L652.5,522.7 L656,523.9 L661,524.4 L661.5,525.2 L663.5,531.5 L666.5,548.1 L668.5,556 L669,557 L674,556.7 L678.5,555.4 L679,554.7 L681.5,547.7 L686,525 L686.5,523.6 L689,521.1 L691.5,504.2 L693.5,496.7 L694,495.6 L697.5,492.9 L700,491.4 L703,492.8 L706,500.5 L708.5,518.8 L709,519 L710.5,508.1 L712,491.6 L715.5,513.7 L718.5,517.9 L722.5,522.5 L726,523.9 L730,524.5 L733.5,471.6 L734,467.8 L737,463.2 L744,466.3 L752.5,467.9 L754,507.6 L756,533.9 L756.5,537.3 L760,539 L765,505.4 L768.5,500.9 L771.5,491.3 L773.5,486.4 L774,486.9 L776,495.8 L778.5,504.7 L779,505 L782.5,496.7 L785,509 L787.5,502.8 L790,491.8 L793.5,491 L794,489.2 L796.5,472.3 L798.5,461.5 L799,459.7 L801,455.9 L801.5,455.7 L804.5,459.7 L807.5,461.6 L810,483.6 L812.5,498.3 L816,494 L816.5,496.1 L819,519.4 L821.5,535.8 L825,542 L828.5,545.4 L829,545.3 L832.5,540.6 L836.5,548.3 L840,552.8 L843.5,553.9 L844,552.9 L847.5,537.5 L852.5,533.6 L855,514.7 L857,505.9 L860,507 L863.5,505.3 L864,505.7 L866.5,510.7 L869.5,520.7 L872.5,522.9 L874.5,510.4 L876,506.5 L876.5,508.7 L878,525.4 L881,533.5 L881.5,534.2 L885,535.4 L886.5,500.9 L888.5,486.6 L889,484.4 L891,481.1 L893.5,479.3 L894,480.8 L896,495 L896.5,496.6 L898.5,495.7 L899,495.2 L902.5,489.6 L905,489.8 L907.5,494.8 L909.5,512.3 L911.5,487.3 L913.5,467.3 L914,463.9 L916,456.9 L916.5,455.9 L920,454.6 L922.5,461.9 L925,463 L927,452.2 L928.5,447.9 L930.5,459.3 L932.5,486.9 L937.5,539.8 L940,536 L942.5,517.3 L945,512.3 L947.5,512.4 L950,522.6 L953,480.5 L956,485.4 L956.5,485.9 L959.5,486.2 L960,487.2 L965,480.7 L968,483.2 L969.5,447.4 L970.5,400.6 L971.5,383.9 L972,387.3 L973,402.9 L974.5,447.1 L975.5,440.1 L976,439.9 L977,441.9 L977.5,439.8 L978.5,419.4 L979.5,388 L980.5,378.5 L981,377 L981.5,376.6 L983,380.1 L984,383.9 L985.5,394.4 L986.5,424.9 L987,417.9 L987.5,415.6 L988,416.9 L989.5,416.2 L990.5,417.2 L992.5,468.9 L993,472.5 L993.5,473.3 L995,473.1 L996,472.3 L996.5,468.6 L998,448.2 L999,439.8 L999.5,438.3 L1002,472.8 L1003,476.8 L1004.5,448.7 L1006,409.8 L1006.5,409.8 L1007,405.9 L1008,378.2 L1009.5,357.9 L1010.5,348.9 L1011.5,344.5 L1012.5,347.9 L1014,361.6 L1015,367.8 L1017.5,359.2 L1018,359.6 L1020,369.1 L1020.5,370.6 L1021,371.2 L1021.5,370.3 L1024,359.1 L1025,362.8 L1025.5,368.6 L1027,419.1 L1029,464.9 L1029.5,475.1 L1030.5,484.2 L1031,484.7 L1032,481.8 L1033.5,479.6 L1034,480.1 L1035.5,484.9 L1036,484.8 L1037.5,482.7 L1039,478 L1039.5,477.2 L1041,481.6 L1042.5,490.9 L1043.5,495.4 L1046,501.5 L1046.5,502.2 L1049.5,503.9 L1052.5,504.6 L1055.5,535.9 L1058.5,541.6 L1061,545.5 L1061.5,544.1 L1063.5,530.3 L1064,528.3 L1066.5,526.1 L1069.5,524 L1072.5,509.2 L1079.5,505.8 L1082,517.1 L1084,512.7 L1087,492.6 L1088.5,487 L1089,486.1 L1092,486.1 L1094.5,500 L1097,507.5 L1100,512.6 L1103.5,513.2 L1104,516.1 L1105,527.7 L1107.5,547.5 L1110,544.8 L1113,539.7 L1115.5,522 L1118,499.3 L1120.5,481.7 L1122.5,464 L1125,461.2 L1128,453.4 L1130.5,448.1 L1132.5,465.4 L1134,448.1 L1134.5,444.1 L1135.5,439.8 L1136,439.6 L1137.5,445 L1142.5,480 L1145,495 L1147.5,492.5 L1149.5,502.5 L1152,508.7 L1154.5,509.9 L1156.5,533.6 L1158.5,543.5 L1161,551.4 L1161.5,552.4 L1163.5,554.4 L1164,554.3 L1166,552.3 L1166.5,552.5 L1169.5,558.2 L1172.5,551.8 L1175.5,546.7 L1178,545.3 L1180,529 L1182,522.7 L1184.5,521.3 L1187.5,508.4 L1190,495.6 L1191,492.4 L1191.5,491.7 L1191.5,492.8 L1191,493.5 L1190,496.7 L1187.5,509.8 L1184.5,522.9 L1182,524.4 L1180,530.8 L1178,547.2 L1175.5,548.6 L1172.5,553.8 L1169.5,560.3 L1166.5,554.7 L1166,554.5 L1164,556.6 L1163.5,556.6 L1161.5,554.7 L1161,553.8 L1158.5,545.9 L1156.5,536 L1154.5,512.4 L1152,511.2 L1149.5,505 L1147.5,495 L1145,497.5 L1142.5,482.5 L1137.5,447.5 L1136,442.1 L1135.5,442.4 L1134.5,446.8 L1132.5,468.2 L1130.5,451.1 L1128,456.6 L1125,464.7 L1122.5,467.7 L1120.5,485.4 L1118,503.2 L1115.5,526 L1113,543.8 L1110,549.1 L1107.5,551.9 L1105,532.1 L1104,520.6 L1103.5,517.7 L1100,517 L1097,511.9 L1094.5,504.3 L1092,490.4 L1089,490.2 L1088.5,491.2 L1087,496.7 L1084,516.9 L1082,521.2 L1079.5,509.9 L1072.5,513 L1069.5,527.6 L1066.5,529.5 L1064,531.6 L1063.5,533.6 L1061.5,547.3 L1061,548.6 L1058.5,544.8 L1055.5,539 L1052.5,507.8 L1049.5,507 L1046.5,505.4 L1046,504.7 L1043.5,498.8 L1042.5,494.3 L1041,485.1 L1039.5,480.8 L1039,481.7 L1037.5,486.4 L1036,488.7 L1035.5,488.8 L1034,484.1 L1033.5,483.7 L1032,485.9 L1031,488.9 L1030.5,488 L1029.5,478 L1029,467.4 L1027,422 L1025.5,371.6 L1025,365.8 L1024,362 L1021.5,373.2 L1021,374.2 L1020.5,373.6 L1020,372 L1018,362.5 L1017.5,362.1 L1015,370.8 L1014,364.5 L1012.5,350.9 L1011.5,347.5 L1010.5,351.9 L1009.5,360.9 L1008,379.8 L1007,407.6 L1006.5,411.5 L1006,411.5 L1004.5,450.4 L1003,478.5 L1002,474.5 L999.5,439.9 L999,441.5 L998,449.8 L996.5,472 L996,475.7 L995,476.5 L993.5,476.7 L993,475.9 L992.5,472.3 L990.5,424.4 L989.5,423.4 L988,424.1 L987.5,421.6 L987,421.9 L986.5,427 L985.5,396.5 L984,386 L983,382.2 L981.5,378.8 L981,379.1 L980.5,380.6 L979.5,390.1 L977.5,445.1 L977,449.5 L976,447.5 L975.5,447.6 L974.5,454.6 L973.5,415.9 L972.5,395.7 L971.5,385.6 L970.5,402.2 L969.5,449.8 L968,487.4 L965,485.3 L960,492.5 L959.5,491.4 L956.5,490.8 L956,490.3 L953,485.2 L950,527.1 L947.5,516.6 L945,516.5 L942.5,521.5 L940,540.2 L937.5,544 L932.5,490.9 L930.5,463.1 L928.5,451.6 L927,455.9 L925,466.8 L922.5,465.8 L920,458.6 L916.5,460.1 L916,461.1 L914,468.1 L913.5,471.5 L911.5,491.5 L909.5,516.5 L907.5,499 L905,494 L902.5,493.7 L899,499.2 L898.5,499.6 L896.5,500.4 L896,498.7 L894,484.5 L893.5,483 L891,485.1 L889,488.6 L888.5,490.9 L886.5,505.4 L885,540 L881.5,538.8 L881,538.1 L878,530 L876.5,513.3 L876,511.1 L874.5,515 L872.5,527.5 L869.5,525.6 L866.5,515.9 L864,511.1 L863.5,510.8 L860,512.8 L857,511.7 L855,520.6 L852.5,539.6 L847.5,543.7 L844,559.2 L843.5,560.2 L840,559.2 L836.5,554.7 L832.5,547.1 L829,552 L828.5,552.1 L825,548.8 L821.5,542.3 L819,525.7 L816.5,502.2 L816,500 L812.5,504.1 L810,489.7 L807.5,468 L804.5,466.6 L801.5,463 L801,463.2 L799,466.9 L798.5,468.7 L796,482.4 L794,496 L793.5,497.7 L790,498.3 L787.5,509.1 L785,515.4 L782.5,503.1 L779,511.5 L778.5,511.3 L776,502.5 L774,493.6 L773.5,493.1 L771.5,497.9 L768.5,507.4 L765,511.9 L760,545.2 L756.5,543.2 L756,539.8 L754,513.2 L752.5,473.4 L744,471.9 L737,469 L734,473.6 L733.5,477.4 L730,530.2 L726,529.6 L722.5,528.2 L718.5,523.7 L715.5,519.8 L712,498.1 L710.5,514.7 L709,525.7 L708.5,525.6 L706,507.5 L703,500.1 L700,499 L694,502.4 L693.5,503.4 L691.5,510.5 L689,526.9 L686.5,528.9 L686,530.2 L681.5,553.1 L679,560.1 L678.5,560.9 L674,562.3 L669,562.8 L668.5,561.8 L666.5,554 L663.5,537.5 L661.5,531.3 L661,530.5 L656,530.2 L652.5,529 L650,520.2 L647,517 L644,521.2 L641.5,526 L641,523.5 L640,511.7 L639,494.9 L638.5,490.4 L636.5,487.8 L636,486.5 L634,478.9 L632,467.8 L630,469.6 L622.5,480.2 L620,488.6 L617.5,513.1 L616,532.1 L615.5,534 L614,526.2 L613.5,525 L611.5,525.6 L609,528.6 L608.5,528.3 L604,515.4 L601.5,503.1 L601,499.5 L598,470.2 L594.5,470.3 L591,476 L587.5,486.1 L577.5,517.6 L576,513.6 L574.5,494.8 L570,474.2 L567.5,464.6 L564,439.2 L562,411.2 L560,397.9 L558,398.8 L557,401.1 L552.5,437 L550,447.2 L547.5,442.5 L545,455.2 L542,473.6 L541,482.6 L540,495.3 L538,530.3 L535,532.8 L532,533.4 L528.5,540.9 L525,544 L522.5,538.6 L520,523.1 L517,516.9 L512.5,522.3 L512,522.5 L510,522.8 L507.5,521.6 L504,521.6 L500,518 L497.5,522 L494,515.5 L490,513.8 L488.5,493.4 L486.5,477.9 L486,475.1 L484,468.6 L483.5,467.8 L481.5,468.6 L481,469.3 L478.5,475.4 L471.5,495.6 L471,496.3 L467.5,495.4 L465,521.4 L462.5,534.9 L461.5,542.3 L461,542.2 L459,530.1 L456.5,498 L456,494.2 L454,491 L453.5,490.7 L450,492.8 L447,472.3 L443.5,469 L440,465 L437,459 L435,477.1 L433,502.2 L426.5,505 L426,506.8 L424,519.9 L423.5,521 L421,517.9 L418,512.3 L415.5,531.8 L412.5,508.7 L409.5,508.9 L407.5,483.2 L406.5,473.7 L406,471.7 L403.5,474.1 L400,475.9 L395.5,477.4 L392.5,481.3 L390,492.8 L387,498.6 L385,519.9 L383,533.2 L380,532 L379.5,531.3 L375,533.9 L370,534.6 L365,530.2 L361.5,524.8 L359,515.7 L356.5,502.6 L356,501.2 L347,498.4 L342.5,468.4 L340,462.8 L336,459.5 L332.5,457.6 L329,458.9 L325.5,455.7 L322.5,474 L320.5,480.3 L319,476 L317,466.4 L316.5,466.8 L315.5,472.7 L314,486.1 L313.5,487.9 L310,483.2 L301.5,487.7 L301,481.3 L300,455.2 L298.5,434.1 L296,424.6 L292.5,421.3 L289,421.6 L288.5,420.6 L287,414.2 L283,334.9 L281.5,321.4 L281,318.1 L279.5,312.4 L278,326.1 L276.5,361.3 L275,382.8 L271,385.3 L267.5,386.2 L265,392.4 L263,412.4 L262,452.3 L261,468.3 L260.5,471.5 L256,456.8 L252,452 L249.5,447.6 L249,428.5 L247.5,309 L246,231.2 L242.5,208.7 L241,182.4 L239.5,177.8 L238,184 L236.5,205.4 L236,209.4 L234,212.4 L233.5,213.6 L231.5,220.6 L228.5,248.3 L227,259 L226,299.6 L225,410.2 L224,439.9 L223.5,447.8 L221.5,452.1 L221,453.8 L215,477 L211.5,482.4 L211,482.1 L207.5,472 L204,460.8 L202,444 L199.5,429.3 L199,427.7 L197,432.7 L196,427.2 L195,424.6 L193,396.8 L190,389.7 L187,390.2 L184,394.1 L183.5,395.9 L177,436 L174.5,433.9 L174,435.6 L172,450.4 L169.5,474.2 L169,476.2 L166,471.1 L163,463.2 L160,460 L157.5,463.2 L155.5,447 L153.5,383 L153,371 L152,357 L150.5,351 L148.5,335.6 L147,327 L145,322.2 L143.5,296.7 L142,250.1 L139.5,226.2 L137.5,221.5 L135,223.1 L134,223.4 L133.5,225.5 L133,238.9 L131.5,318.3 L130.5,333.7 L129,371.6 L128,367.6 L126.5,344.8 L125,332.5 L122.5,338.2 L121,350.7 L119.5,392 L118,423.8 L117,430 L116,434.1 L114,437.1 L113.5,437.5 L110,437 L107.5,438.5 L106,443.7 L104.5,468.4 L103,484.5 L101.5,483.7 L101,484 L93,496.5 L91.5,496.5 L90,483.5 L88,455.7 L85.5,450.6 L83,447 L77.5,430.4 L76,427.4 L75.5,425.8 L72,348.5 L69,319.7 L68.5,317.2Z" fill="#ffd52e" />
<path d="M68.5,309.3 L69,311.7 L72,340.6 L75.5,416.2 L77.5,420.2 L83,436.6 L85.5,440 L88,444.9 L90,473.8 L91,484.6 L91.5,487.1 L93,485 L101,470.3 L101.5,469.9 L103,470.6 L104.5,454.4 L106,429.6 L107.5,424.3 L110,422.6 L113.5,423.1 L114,422.7 L116,419.7 L117,415.6 L118,410.3 L119.5,379.8 L121,339.8 L122.5,327.8 L125,320.3 L126.5,332.3 L128,354.9 L129,359.7 L130.5,323.2 L131.5,308.6 L133,229.6 L133.5,216.1 L134,214 L137.5,212.3 L139.5,217.1 L142,241.3 L143.5,288 L145,313.6 L147,317 L149,327.5 L150.5,338.8 L152,344.8 L153,358.8 L153.5,370.8 L155.5,434.8 L157.5,451 L160,447.8 L163,451.9 L166,460.7 L169,466.9 L169.5,465 L171.5,445.8 L174,427.1 L174.5,425.5 L177,428.1 L183.5,385.7 L184,383.6 L187,378.7 L190,380.5 L193,390.1 L195,419.5 L197,427.2 L199,419.7 L199.5,420.7 L204,453.6 L207.5,464.3 L211,473.8 L211.5,474.1 L215,468.4 L221,444.6 L221.5,443.1 L223.5,439.8 L224,432 L225,402.9 L226,292.7 L227,252.5 L228.5,241.8 L231.5,214.1 L233.5,207.1 L234,205.9 L236,202.9 L236.5,198.9 L238,177.5 L239.5,167.7 L241,175.9 L242.5,202.4 L246,225.5 L247.5,302.5 L249,421.3 L249.5,440.2 L256,448.1 L260.5,462.7 L261,459.4 L262,443.5 L263,403.5 L265,383.5 L267.5,377.2 L271,376.6 L275,374.5 L276.5,353.2 L278,318.1 L279.5,304.4 L281,309.8 L283,326.2 L287,404.7 L288.5,410.8 L289,411.8 L292.5,410.8 L296,413.9 L298.5,423.2 L300,444.3 L301,470.3 L301.5,476.6 L306.5,473.8 L310,472.8 L313.5,478.3 L314,476.6 L315.5,463.6 L316.5,457.9 L317,457.6 L319,466.7 L320.5,470.7 L322.5,463.9 L325.5,444.9 L328.5,447.3 L329,447.4 L332.5,446.4 L336,448.6 L340,452.1 L342.5,457.8 L347,488 L356,491.4 L356.5,492.9 L359,506.2 L361.5,515.5 L365,521.2 L370,524.3 L375,522.3 L379.5,518.5 L380,519 L383,519 L385,504.9 L387,482.7 L390,475.7 L392.5,463.5 L395.5,460.2 L400,459.8 L403.5,458.8 L406,456.9 L406.5,459.2 L407.5,469.4 L409.5,496.4 L412.5,498.1 L415.5,522.6 L418,501.8 L421,505.9 L423.5,507.8 L424,506.4 L426,493.3 L426.5,491.6 L433,489.1 L435,464.1 L437,446 L440,451.7 L443.5,455.3 L447,458.2 L450,478.4 L453.5,478.6 L454,479.2 L456,483.7 L459,521.6 L461,535 L461.5,534.9 L462.5,527.1 L465,512.5 L467.5,485.4 L471,484.8 L471.5,484 L478.5,463.2 L481,456.9 L481.5,456.2 L483.5,455.3 L484,456 L486,462.9 L486.5,465.7 L488.5,481.6 L490,502.2 L494,504.7 L497,508.1 L497.5,509.7 L499,509.6 L500,507.5 L504,509.1 L507.5,510.1 L510,511.9 L512.5,512.2 L517,508.6 L520,516.1 L522.5,530.3 L525,536.8 L528.5,532.6 L532,523.9 L535,522.3 L538,521.3 L540,487.2 L542,466.4 L545,446.1 L547.5,431.7 L550,434.8 L552.5,423 L557,384.1 L558,381.1 L560,383.2 L562,400.7 L564,433.2 L567.5,458.5 L570,467.1 L574.5,486.8 L576,505.4 L577,507 L577.5,507.7 L579,501.7 L587.5,475.9 L591,466.3 L592,464.6 L594.5,462.7 L595,462.9 L598,462.7 L601,491 L604,505 L608.5,517.6 L609,517.8 L611.5,514.5 L613.5,513.6 L614,514.7 L615.5,522.3 L616,520.4 L617.5,501.2 L620,476.3 L622.5,467.6 L630,457.5 L632,455.7 L634,467.1 L636,475 L636.5,476.3 L638.5,479.2 L640,500.8 L641,512.7 L641.5,515.2 L644,510.4 L647,506.2 L650,509.4 L652.5,518.2 L656,519.4 L661,520 L661.5,520.9 L663.5,527.2 L666.5,543.9 L668.5,551.9 L669,552.9 L674,552.7 L678.5,551.5 L679,550.8 L681.5,543.8 L686,521.2 L686.5,519.8 L689,516.9 L691.5,499.7 L693.5,492 L694,490.8 L697.5,487.7 L700,486 L703,487.6 L706,495.5 L708.5,514 L709,514.2 L710.5,503.4 L712,487 L715.5,509.3 L718.5,513.7 L722.5,518.4 L726,519.8 L730,520.4 L733.5,467.5 L734,463.7 L737,459.1 L744,462.3 L752.5,463.9 L754,503.5 L756,529.7 L756.5,533 L760,534.5 L765,500.8 L768.5,496.2 L771.5,486.6 L773.5,481.6 L774,482.1 L776,491.1 L778.5,500 L779,500.3 L782.5,492 L785,504.5 L787.5,498.2 L790,487.1 L793.5,486.1 L794,484.3 L796,470.4 L798.5,456.4 L799,454.6 L801,450.6 L801.5,450.5 L804.5,454.8 L807.5,457 L810,479.3 L812.5,494.1 L816,489.6 L816.5,491.7 L819,514.9 L821.5,531.2 L825,537.2 L828.5,540.7 L829,540.6 L832.5,535.9 L836.5,543.6 L840,548.3 L843.5,549.4 L844,548.4 L847.5,533.1 L852.5,529.3 L855,510.5 L857,501.7 L860,502.9 L863.5,501.5 L864,501.8 L866.5,507 L869.5,517.2 L872.5,519.6 L874.5,507.1 L876,503.2 L876.5,505.4 L878,522.1 L881,530.2 L881.5,530.9 L885,532.1 L886.5,497.7 L889,481.4 L891.5,477.8 L893.5,476.6 L894,478.2 L896,492.3 L896.5,493.9 L898.5,493 L899,492.4 L902.5,486.7 L905,486.8 L907.5,491.8 L909.5,509.3 L911.5,484.3 L913.5,464.3 L914,460.9 L916,453.9 L916.5,453 L920,451.7 L922.5,459.1 L925,460.3 L927,449.5 L928.5,445.2 L930.5,456.5 L932.5,484.1 L937.5,536.8 L940,533 L942.5,514.3 L945,509.3 L947.5,509.3 L950,519.5 L953,477.1 L956,481.9 L956.5,482.3 L959.5,482.5 L960,483.5 L965,477.4 L968,480.2 L969.5,445.8 L970.5,399.4 L971.5,382.7 L972,386.1 L973,401.7 L974.5,441.7 L975.5,434.7 L976,434.5 L977,436.5 L977.5,436 L978.5,417.9 L979.5,386.5 L980.5,377 L981,375.5 L981.5,375.1 L983,378.6 L984,382.4 L985.5,392.9 L986.5,423.4 L987,415 L987.5,411.3 L988,411.8 L989.5,411.1 L990.5,412.1 L992,455.4 L992.5,466.5 L993,470.1 L993.5,470.9 L995,470.7 L996,469.9 L998,447 L999,438.6 L999.5,437.1 L1002,471.6 L1003,475.6 L1004.5,447.5 L1006,408.6 L1006.5,408.6 L1007,404.7 L1008.5,368.9 L1009.5,355.8 L1010.5,346.8 L1011.5,342.4 L1012.5,345.8 L1014,359.5 L1015,365.7 L1017.5,357.1 L1018,357.5 L1020,367 L1020.5,368.5 L1021,369.1 L1021.5,368.2 L1024,357 L1025,360.7 L1025.5,366.5 L1027,417 L1029,463.1 L1029.5,473 L1030.5,481.5 L1031,481.7 L1032,478.8 L1033.5,476.8 L1034,477.2 L1035.5,482.2 L1036,482.1 L1037.5,480 L1039,475.4 L1039.5,474.7 L1041,479.1 L1042.5,488.5 L1043.5,493.1 L1046,499.3 L1046.5,500 L1049.5,501.6 L1052.5,502.4 L1055.5,533.6 L1058.5,539.4 L1061,543.2 L1061.5,541.9 L1063.5,527.9 L1064,526 L1066.5,523.6 L1069.5,521.4 L1072.5,506.5 L1079.5,502.9 L1082,514.2 L1084,509.8 L1087,489.6 L1088.5,484 L1089,483.1 L1092,483.1 L1094.5,496.9 L1097,504.4 L1100,509.5 L1103.5,510 L1104,512.9 L1105,524.5 L1107.5,544.4 L1110,541.8 L1113,536.7 L1115.5,519.2 L1118,496.6 L1120.5,479 L1122.5,461.4 L1125,458.8 L1128,451.1 L1130.5,446 L1132.5,463.4 L1134,446.1 L1134.5,442.2 L1135.5,438 L1136,437.8 L1137.5,443.2 L1142.5,478.2 L1145,493.2 L1147.5,490.7 L1149.5,500.7 L1152,506.9 L1154.5,508.1 L1156.5,531.9 L1158.5,541.8 L1161,549.8 L1161.5,550.8 L1163.5,552.8 L1164,552.7 L1166,550.7 L1166.5,550.9 L1169.5,556.7 L1172.5,550.4 L1175.5,545.3 L1178,544 L1180,527.7 L1182,521.4 L1184.5,520.1 L1187.5,507.4 L1190,494.8 L1191,491.7 L1191.5,490.9 L1191.5,491.7 L1191,492.4 L1190,495.6 L1187.5,508.4 L1184.5,521.3 L1182,522.7 L1180,529 L1178,545.3 L1175.5,546.7 L1172.5,551.8 L1169.5,558.2 L1166.5,552.5 L1166,552.3 L1164,554.3 L1163.5,554.4 L1161.5,552.4 L1161,551.4 L1158.5,543.5 L1156.5,533.6 L1154.5,509.9 L1152,508.7 L1149.5,502.5 L1147.5,492.5 L1145,495 L1142.5,480 L1137.5,445 L1136,439.6 L1135.5,439.8 L1134.5,444.1 L1134,448.1 L1132.5,465.4 L1130.5,448.1 L1128,453.4 L1125,461.2 L1122.5,464 L1120.5,481.7 L1118,499.3 L1115.5,522 L1113,539.7 L1110,544.8 L1107.5,547.5 L1105,527.7 L1104,516.1 L1103.5,513.2 L1100,512.6 L1097,507.5 L1094.5,500 L1092,486.1 L1089,486.1 L1088.5,487 L1087,492.6 L1084,512.7 L1082,517.1 L1079.5,505.8 L1072.5,509.2 L1069.5,524 L1066.5,526.1 L1064,528.3 L1063.5,530.3 L1061.5,544.1 L1061,545.5 L1058.5,541.6 L1055.5,535.9 L1052.5,504.6 L1049.5,503.9 L1046.5,502.2 L1046,501.5 L1043.5,495.4 L1042.5,490.9 L1041,481.6 L1039.5,477.2 L1039,478 L1037.5,482.7 L1036,484.8 L1035.5,484.9 L1034,480.1 L1033.5,479.6 L1032,481.8 L1031,484.7 L1030.5,484.2 L1029.5,475.1 L1029,464.9 L1027,419.1 L1025.5,368.6 L1025,362.8 L1024,359.1 L1021.5,370.3 L1021,371.2 L1020.5,370.6 L1020,369.1 L1018,359.6 L1017.5,359.2 L1015,367.8 L1014,361.6 L1012.5,347.9 L1011.5,344.5 L1010.5,348.9 L1009.5,357.9 L1008,378.2 L1007,405.9 L1006.5,409.8 L1006,409.8 L1004.5,448.7 L1003,476.8 L1002,472.8 L999.5,438.3 L999,439.8 L998,448.2 L996.5,468.6 L996,472.3 L995,473.1 L993.5,473.3 L993,472.5 L992.5,468.9 L990.5,417.2 L989.5,416.2 L988,416.9 L987.5,415.6 L987,417.9 L986.5,424.9 L985.5,394.4 L984,383.9 L983,380.1 L981.5,376.6 L981,377 L980.5,378.5 L979.5,388 L978.5,419.4 L977.5,439.8 L977,441.9 L976,439.9 L975.5,440.1 L974.5,447.1 L973,402.9 L972,387.3 L971.5,383.9 L970.5,400.6 L969.5,447.4 L968,483.2 L965,480.7 L960,487.2 L959.5,486.2 L956.5,485.9 L956,485.4 L953,480.5 L950,522.6 L947.5,512.4 L945,512.3 L942.5,517.3 L940,536 L937.5,539.8 L932.5,486.9 L930.5,459.3 L928.5,447.9 L927,452.2 L925,463 L922.5,461.9 L920,454.6 L916.5,455.9 L916,456.9 L914,463.9 L913.5,467.3 L911.5,487.3 L909.5,512.3 L907.5,494.8 L905,489.8 L902.5,489.6 L899,495.2 L898.5,495.7 L896.5,496.6 L896,495 L894,480.8 L893.5,479.3 L891,481.1 L889,484.4 L888.5,486.6 L886.5,500.9 L885,535.4 L881.5,534.2 L881,533.5 L878,525.4 L876.5,508.7 L876,506.5 L874.5,510.4 L872.5,522.9 L869.5,520.7 L866.5,510.7 L864,505.7 L863.5,505.3 L860,507 L857,505.9 L855,514.7 L852.5,533.6 L847.5,537.5 L844,552.9 L843.5,553.9 L840,552.8 L836.5,548.3 L832.5,540.6 L829,545.3 L828.5,545.4 L825,542 L821.5,535.8 L819,519.4 L816.5,496.1 L816,494 L812.5,498.3 L810,483.6 L807.5,461.6 L804.5,459.7 L801.5,455.7 L801,455.9 L799,459.7 L798.5,461.5 L796.5,472.3 L794,489.2 L793.5,491 L790,491.8 L787.5,502.8 L785,509 L782.5,496.7 L779,505 L778.5,504.7 L776,495.8 L774,486.9 L773.5,486.4 L771.5,491.3 L768.5,500.9 L765,505.4 L760,539 L756.5,537.3 L756,533.9 L754,507.6 L752.5,467.9 L744,466.3 L737,463.2 L734,467.8 L733.5,471.6 L730,524.5 L726,523.9 L722.5,522.5 L718.5,517.9 L715.5,513.7 L712,491.6 L710.5,508.1 L709,519 L708.5,518.8 L706,500.5 L703,492.8 L700,491.4 L697.5,492.9 L694,495.6 L693.5,496.7 L691.5,504.2 L689,521.1 L686.5,523.6 L686,525 L681.5,547.7 L679,554.7 L678.5,555.4 L674,556.7 L669,557 L668.5,556 L666.5,548.1 L663.5,531.5 L661.5,525.2 L661,524.4 L656,523.9 L652.5,522.7 L650,514 L647,510.7 L644,514.9 L641.5,519.7 L641,517.2 L640,505.3 L639,488.4 L638.5,483.9 L636.5,481.1 L636,479.8 L634,472 L632,460.7 L630,462.6 L622.5,472.9 L620,481.4 L617.5,506.1 L616,525.3 L615.5,527.2 L614,519.5 L613.5,518.3 L611.5,519.1 L609,522.3 L608.5,522 L604,509.4 L601,494.7 L598,466.1 L595,466.3 L594.5,466.1 L592,468.7 L591,470.5 L587.5,480.3 L579,506.6 L577.5,512.2 L576,509.5 L574.5,490.8 L570,470.6 L567.5,461.6 L564,436.2 L562,405.3 L561,396.9 L560,389.3 L558,388.5 L557,391.2 L552.5,428.8 L550,440 L547.5,436.2 L545,449.9 L542,469.4 L540,490.5 L538,525 L535,526.7 L532,527.9 L528.5,536 L525,539.8 L522.5,533.8 L520,519.6 L517,512.7 L512.5,517.3 L512,517.4 L510,517.4 L507.5,515.9 L504,515.4 L500,512.8 L499,514.6 L497.5,515 L497,513.5 L494,509.2 L490,507 L488.5,486.5 L486.5,470.8 L486,468 L484,461.3 L483.5,460.5 L481.5,461.4 L481,462.1 L478.5,468.3 L471.5,488.8 L471,489.6 L467.5,489.6 L465,516.2 L462.5,530.3 L461.5,538 L461,538 L459,525.1 L456,488.1 L454,484.1 L453.5,483.7 L450,484.4 L447,464.1 L443.5,461 L440,457.2 L437,451.4 L435,469.5 L433,494.6 L426.5,497.2 L426,498.9 L424,512 L423.5,513.3 L421,510.9 L418,506.2 L415.5,526.5 L412.5,502.5 L409.5,501.6 L407.5,475.1 L406.5,465.2 L406,463.1 L403.5,465.2 L400,466.5 L395.5,467.3 L392.5,470.9 L390,482.8 L387,489.3 L385,511.1 L383,525 L380,524.4 L379.5,523.8 L375,527.1 L370,528.6 L365,525 L361.5,519.4 L359,510.2 L356.5,497 L356,495.5 L347,492.4 L342.5,462.2 L340,456.6 L336,453.2 L332.5,451 L329,452.2 L325.5,449.4 L322.5,468.1 L320.5,474.7 L319,470.6 L317,461.3 L316.5,461.6 L315.5,467.4 L314,480.5 L313.5,482.3 L310,477.1 L306.5,478.5 L301.5,481.3 L301,474.9 L300,448.8 L298.5,427.7 L296,418.4 L292.5,415.2 L289,415.9 L288.5,414.9 L287,408.6 L283,329.8 L281,313.3 L279.5,307.7 L278,321.5 L276.5,356.6 L275,377.9 L271,380.2 L267.5,381 L265,387.2 L263,407.2 L262,447.2 L261,463.1 L260.5,466.3 L256,451.7 L252,446.9 L249.5,443.3 L249,424.3 L247.5,305.2 L246,227.9 L242.5,205 L241,178.6 L239.5,171.9 L238,180.2 L236.5,201.6 L236,205.6 L234,208.6 L233.5,209.8 L231.5,216.8 L228.5,244.5 L227,255.2 L226,295.6 L225,405.9 L224,435.3 L223.5,443.1 L221.5,446.8 L221,448.4 L215,472 L211.5,477.5 L211,477.3 L207.5,467.5 L204,456.6 L202,440.6 L199.5,424.3 L199,423 L197,429.5 L196,424.7 L195,421.6 L193,392.9 L190,384.3 L187,383.5 L184,388 L183.5,389.9 L177,431.4 L174.5,429 L174,430.6 L172,445.3 L169.5,468.8 L169,470.8 L166,465 L163,456.6 L160,452.9 L157.5,456.1 L155.5,439.9 L153.5,375.9 L153,363.9 L152,349.9 L150.5,343.9 L149,332.5 L147,321.9 L145,318.4 L143.5,292.9 L142,246.2 L139.5,222.2 L137.5,217.5 L135,218.9 L134,219.2 L133.5,221.4 L133,234.8 L131.5,313.8 L130.5,328.4 L129,365 L128,360.2 L126.5,337.5 L125,325.4 L122.5,332.2 L121,344.4 L119.5,384.9 L118,415.9 L117,421.6 L116,425.7 L114,428.7 L113.5,429.1 L110,428.6 L107.5,430.2 L106,435.4 L104.5,460.2 L103,476.4 L101.5,475.7 L101,476 L93,489.8 L91.5,491 L90,477.8 L88,449.4 L85.5,444.5 L83,440.9 L77.5,424.4 L75.5,420.2 L72,343.9 L69,315 L68.5,312.6Z" fill="#a970fa" />
<path d="M68.5,306.2 L69,308.7 L72,337.5 L75.5,412.5 L77.5,416.2 L83,432.5 L85.5,435.9 L88,440.8 L88.5,445.4 L90,470 L91,481.2 L91.5,483.5 L101,465 L101.5,464.6 L103,465.2 L104.5,449 L106,424.1 L107.5,418.8 L110,417 L113.5,417.5 L114,417.1 L116,414.1 L118,405 L119.5,375 L121,335.5 L122.5,323.8 L125,315.5 L126.5,327.5 L128,350 L129,353.8 L130.5,315.6 L131.5,300 L133,220.3 L133.5,206.8 L134,204.6 L137.5,203 L139.5,208 L142,232.4 L143.5,279.3 L145,305 L147,310 L148.5,318.6 L150.5,334 L152,340 L153,354 L153.5,366 L155.5,430 L157.5,446.2 L160,443 L163,447.5 L166,456.7 L169,463.2 L169.5,461.4 L172,438.2 L174,423.8 L174.5,422.3 L177,425 L183.5,381.7 L184,379.6 L187,374.2 L190,377 L193,387.5 L195,417.5 L197,425 L199,416.6 L199.5,417.3 L204,450.8 L207.5,461.2 L211,470.6 L211.5,470.8 L215,465 L221,441 L221.5,439.6 L223.5,436.6 L224,429 L225,400 L226,290 L227,250 L228.5,239.3 L231.5,211.6 L233.5,204.6 L234,203.4 L236,200.4 L236.5,196.4 L238,175 L239.5,163.8 L241,173.4 L242.5,200 L246,223.2 L247.5,300 L249,418.5 L249.5,437.3 L256,444.7 L260.5,459.2 L261,456 L262,440 L263,400 L265,380 L267.5,373.8 L271,373.3 L275,371.2 L276.5,350 L278,315 L279.5,301.2 L281,306.6 L283,322.8 L287,401 L288.5,407 L289,407.9 L292.5,406.8 L296,409.8 L298.5,419 L300,440 L301,466 L301.5,472.4 L306,469.6 L310,468.8 L313.5,474.6 L314,472.9 L315.5,460 L316.5,454.4 L317,454.2 L319,463.1 L320.5,467 L322.5,460 L325.5,440.8 L329,442.9 L332.5,442 L336,444.3 L340,448 L342.5,453.8 L347,484 L353.5,486.4 L356,487.6 L356.5,489.1 L359,502.5 L361.5,511.9 L365,517.8 L370,520.2 L375,517.8 L379.5,513.5 L380,514 L383,513.5 L385,499 L387,476.5 L390,469 L392.5,456.5 L395.5,453.5 L400,453.5 L403.5,452.8 L406,451.2 L406.5,453.6 L407.5,464 L409.5,491.5 L412.5,494 L415.5,519 L418,497.8 L421,501.2 L423.5,502.6 L424,501.1 L426,488.1 L426.5,486.4 L433,484 L435,459 L437,441 L440,446.5 L443.5,450 L447,452.8 L450,472.8 L453.5,473.9 L456,479.6 L459,518.2 L461,532.2 L461.5,532 L462.5,524 L465,509 L467.5,481.5 L471,480.3 L471.5,479.5 L478.5,458.5 L481.5,451.4 L483.5,450.4 L484,451.1 L486,458.1 L488.5,477 L490,497.8 L493.5,500.1 L497,503.1 L497,508.1 L494,504.7 L490,502.2 L488.5,481.6 L486,462.9 L484,456 L483.5,455.3 L481.5,456.2 L478.5,463.2 L471.5,484 L471,484.8 L467.5,485.4 L465,512.5 L462.5,527.1 L461.5,534.9 L461,535 L459,521.6 L456,483.7 L454,479.2 L453.5,478.6 L450,478.4 L447,458.2 L443.5,455.3 L440,451.7 L437,446 L435,464.1 L433,489.1 L426.5,491.6 L426,493.3 L424,506.4 L423.5,507.8 L421,505.9 L418,501.8 L415.5,522.6 L412.5,498.1 L409.5,496.4 L407.5,469.4 L406.5,459.2 L406,456.9 L403.5,458.8 L400,459.8 L395.5,460.2 L392.5,463.5 L390,475.7 L387,482.7 L385,504.9 L383,519 L380,519 L379.5,518.5 L375,522.3 L370,524.3 L365,521.2 L361.5,515.5 L359,506.2 L356.5,492.9 L356,491.4 L347,488 L342.5,457.8 L340,452.1 L336,448.6 L332.5,446.4 L329,447.4 L328.5,447.3 L325.5,444.9 L322.5,463.9 L320.5,470.7 L319,466.7 L317,457.6 L316.5,457.9 L315.5,463.6 L314,476.6 L313.5,478.3 L310,472.8 L306.5,473.8 L301.5,476.6 L301,470.3 L300,444.3 L298.5,423.2 L296,413.9 L292.5,410.8 L289,411.8 L288.5,410.8 L287,404.7 L283,326.2 L281,309.8 L279.5,304.4 L278,318.1 L276.5,353.2 L275,374.5 L271,376.6 L267.5,377.2 L265,383.5 L263,403.5 L262,443.5 L261,459.4 L260.5,462.7 L256,448.1 L249.5,440.2 L249,421.3 L247.5,302.5 L246,225.5 L242.5,202.4 L241,175.9 L239.5,167.7 L238,177.5 L236.5,198.9 L236,202.9 L234,205.9 L233.5,207.1 L231.5,214.1 L228.5,241.8 L227,252.5 L226,292.7 L225,402.9 L224,432 L223.5,439.8 L221.5,443.1 L221,444.6 L215,468.4 L211.5,474.1 L211,473.8 L207.5,464.3 L204,453.6 L199.5,420.7 L199,419.7 L197,427.2 L195,419.5 L193,390.1 L190,380.5 L187,378.7 L184,383.6 L183.5,385.7 L177,428.1 L174.5,425.5 L174,427.1 L171.5,445.8 L169.5,465 L169,466.9 L166,460.7 L163,451.9 L160,447.8 L157.5,451 L155.5,434.8 L153.5,370.8 L153,358.8 L152,344.8 L150.5,338.8 L149,327.5 L147,317 L145,313.6 L143.5,288 L142,241.3 L139.5,217.1 L137.5,212.3 L134,214 L133.5,216.1 L133,229.6 L131.5,308.6 L130.5,323.2 L129,359.7 L128,354.9 L126.5,332.3 L125,320.3 L122.5,327.8 L121,339.8 L119.5,379.8 L118,410.3 L117,415.6 L116,419.7 L114,422.7 L113.5,423.1 L110,422.6 L107.5,424.3 L106,429.6 L104.5,454.4 L103,470.6 L101.5,469.9 L101,470.3 L93,485 L91.5,487.1 L91,484.6 L90,473.8 L88,444.9 L85.5,440 L83,436.6 L77.5,420.2 L75.5,416.2 L72,340.6 L69,311.7 L68.5,309.3Z" fill="#b3f23f" />
<path d="M497,503.1 L497.5,503.5 L500,497 L504,496.6 L507.5,498.5 L510,501 L512.5,502 L517,500.2 L520,509 L522.5,526.5 L525,534 L527,531.3 L527,534.4 L525,536.8 L522.5,530.3 L520,516.1 L517,508.6 L512.5,512.2 L512,512.2 L510,511.9 L507.5,510.1 L504,509.1 L500,507.5 L499,509.6 L497.5,509.7 L497,508.1Z" fill="#ffb35c" />
<path d="M527,531.3 L529,528.3 L532,520.2 L535,518.2 L538,517.8 L540,484 L541,472 L541,475 L540,487.2 L538,521.3 L535,522.3 L532,523.9 L529,531.6 L527,534.4Z" fill="#b3f23f" />
<path d="M541,472 L545,442.5 L547.5,427.5 L550,430 L552.5,417.5 L557,377.5 L558,374.2 L560,377.5 L562,395 L564,427.1 L565.5,440 L567.5,452.5 L570,460 L574.5,478.8 L576,497.1 L577.5,501 L587.5,471.5 L591,462.2 L594.5,457 L598,456.5 L601,485.4 L601.5,489 L604,501 L608.5,513.4 L609,513.6 L611.5,510.1 L613.5,509.1 L614,510.2 L615.5,517.8 L616,515.8 L617.5,496.5 L620,471.5 L622.5,462.8 L630,452.8 L632,451 L634,462.5 L636,470.5 L636.5,471.9 L638.5,474.9 L640,496.5 L641,508.5 L641.5,511 L644,506.2 L647,502 L650,505.2 L652.5,514 L656.5,515.3 L661,516 L661.5,516.8 L663.5,523.2 L666.5,540 L668.5,548 L669,549 L674,548.9 L678.5,547.8 L679,547.1 L681.5,540.2 L686,517.8 L686.5,516.2 L689,513.1 L691.5,495.5 L693.5,487.5 L694,486.2 L697.5,482.8 L700,481 L703,482.8 L706,490.8 L708.5,509.5 L709,509.7 L710.5,499 L712,482.8 L715.5,505.2 L719,510.5 L722.5,514.5 L726,515.9 L730,516.5 L733.5,463.6 L734,459.9 L737,455.2 L744,458.6 L752.5,460.2 L754,499.8 L756,525.8 L756.5,529.1 L760,530.2 L765,496.5 L768.5,491.8 L771.5,482.1 L773.5,477.1 L774,477.6 L776,486.6 L778.5,495.6 L779,495.9 L782.5,487.8 L785,500.2 L787.5,494 L790,482.8 L793.5,481.6 L794,479.8 L796,465.8 L796,470.4 L794,484.3 L793.5,486.1 L790,487.1 L787.5,498.2 L785,504.5 L782.5,492 L779,500.3 L778.5,500 L776,491.1 L774,482.1 L773.5,481.6 L771.5,486.6 L768.5,496.2 L765,500.8 L760,534.5 L756.5,533 L756,529.7 L754,503.5 L752.5,463.9 L744,462.3 L737,459.1 L734,463.7 L733.5,467.5 L730,520.4 L726,519.8 L722.5,518.4 L718.5,513.7 L715.5,509.3 L712,487 L710.5,503.4 L709,514.2 L708.5,514 L706,495.5 L703,487.6 L700,486 L697.5,487.7 L694,490.8 L693.5,492 L691.5,499.7 L689,516.9 L686.5,519.8 L686,521.2 L681.5,543.8 L679,550.8 L678.5,551.5 L674,552.7 L669,552.9 L668.5,551.9 L666.5,543.9 L663.5,527.2 L661.5,520.9 L661,520 L656,519.4 L652.5,518.2 L650,509.4 L647,506.2 L644,510.4 L641.5,515.2 L641,512.7 L640,500.8 L638.5,479.2 L636.5,476.3 L636,475 L634,467.1 L632,455.7 L630,457.5 L622.5,467.6 L620,476.3 L617.5,501.2 L616,520.4 L615.5,522.3 L614,514.7 L613.5,513.6 L611.5,514.5 L609,517.8 L608.5,517.6 L604,505 L601,491 L598,462.7 L595,462.9 L594.5,462.7 L592,464.6 L591,466.3 L587.5,475.9 L579,501.7 L577.5,507.7 L577,507 L576,505.4 L574.5,486.8 L570,467.1 L567.5,458.5 L564,433.2 L562,400.7 L560,383.2 L558,381.1 L557,384.1 L552.5,423 L550,434.8 L547.5,431.7 L545,446.1 L542,466.4 L541,475Z" fill="#ffb35c" />
<path d="M796,465.8 L798.5,451.6 L799,449.8 L801,445.8 L801.5,445.6 L804.5,450.2 L807.5,452.8 L810,475.2 L812.5,490.2 L816,485.6 L816.5,487.6 L819,510.8 L821.5,526.9 L825,532.8 L828.5,536.2 L829,536.2 L832.5,531.5 L836.5,539.3 L840,544 L843.5,545.2 L844,544.2 L847.5,529 L852.5,525.2 L855,506.5 L857,497.8 L860,499 L863.5,497.8 L864,498.2 L866.5,503.6 L869.5,514 L872.5,516.5 L874.5,504 L876,500.1 L876.5,502.3 L878,519 L881,527.1 L881.5,527.8 L885,529 L886.5,494.8 L889,478.6 L891.5,475.1 L893.5,474.1 L894,475.8 L896,489.8 L896.5,491.4 L898.5,490.4 L899,489.8 L902.5,484 L905,484 L907.5,489 L909.5,506.5 L911.5,481.5 L913.5,461.5 L914,458.1 L916,451.1 L916.5,450.2 L920,449 L922.5,456.5 L925,457.8 L927,447 L928.5,442.8 L930.5,454 L932.5,481.5 L937.5,534 L940,530.2 L942.5,511.5 L945,506.5 L947.5,506.5 L950,516.5 L953,474 L956,478.6 L956.5,479 L959.5,479 L960,480 L965,474.4 L966,475.4 L966,478.4 L965,477.4 L960,483.5 L959.5,482.5 L956.5,482.3 L956,481.9 L953,477.1 L950,519.5 L947.5,509.3 L945,509.3 L942.5,514.3 L940,533 L937.5,536.8 L932.5,484.1 L930.5,456.5 L928.5,445.2 L927,449.5 L925,460.3 L922.5,459.1 L920,451.7 L916.5,453 L916,453.9 L914,460.9 L913.5,464.3 L911.5,484.3 L909.5,509.3 L907.5,491.8 L905,486.8 L902.5,486.7 L899,492.4 L898.5,493 L896.5,493.9 L896,492.3 L894,478.2 L893.5,476.6 L891.5,477.8 L889,481.4 L886.5,497.7 L885,532.1 L881.5,530.9 L881,530.2 L878,522.1 L876.5,505.4 L876,503.2 L874.5,507.1 L872.5,519.6 L869.5,517.2 L866.5,507 L864,501.8 L863.5,501.5 L860,502.9 L857,501.7 L855,510.5 L852.5,529.3 L847.5,533.1 L844,548.4 L843.5,549.4 L840,548.3 L836.5,543.6 L832.5,535.9 L829,540.6 L828.5,540.7 L825,537.2 L821.5,531.2 L819,514.9 L816.5,491.7 L816,489.6 L812.5,494.1 L810,479.3 L807.5,457 L804.5,454.8 L801.5,450.5 L801,450.6 L799,454.6 L798.5,456.4 L796,470.4Z" fill="#a970fa" />
<path d="M966,475.4 L968,477.4 L968.5,469.2 L969.5,444.2 L970.5,398.2 L971.5,381.6 L972,385 L973,400.6 L974.5,436.6 L975.5,429.6 L976,429.5 L977.5,432.5 L978.5,416.5 L979.5,385.1 L980.5,375.6 L981,374.1 L981.5,373.8 L983,377.2 L984,381 L985.5,391.5 L986.5,422 L987.5,407.4 L989.5,406.4 L990.5,407.4 L992,453.1 L992.5,464.3 L993,467.9 L993.5,468.7 L995,468.5 L996,467.7 L996.5,464 L997.5,450 L999,437.5 L999.5,435.9 L1002,470.5 L1003,474.5 L1004.5,446.4 L1006,407.5 L1006.5,407.5 L1007,403.6 L1008,375.8 L1008,377 L1007,404.7 L1006.5,408.6 L1006,408.6 L1004.5,447.5 L1003,475.6 L1002,471.6 L999.5,437.1 L999,438.6 L998,447 L996,469.9 L995,470.7 L993.5,470.9 L993,470.1 L992.5,466.5 L992,455.4 L990.5,412.1 L989.5,411.1 L988,411.8 L987.5,411.3 L987,415 L986.5,423.4 L985.5,392.9 L984,382.4 L983,378.6 L981.5,375.1 L981,375.5 L980.5,377 L979.5,386.5 L978.5,417.9 L977.5,436 L977,436.5 L976,434.5 L975.5,434.7 L974.5,441.7 L973,401.7 L972,386.1 L971.5,382.7 L970.5,399.4 L969.5,445.8 L968.5,471.6 L968,480.2 L966,478.4Z" fill="#ffb35c" />
<path d="M1008,375.8 L1009.5,353.9 L1010.5,344.9 L1011.5,340.5 L1012.5,343.9 L1014,357.5 L1015,363.8 L1017.5,355.1 L1018,355.5 L1020,365 L1020.5,366.6 L1021,367.2 L1021.5,366.2 L1024,355 L1025,358.8 L1025.5,364.6 L1026.5,400.5 L1028,437.5 L1028,439.1 L1026.5,402.5 L1025.5,366.5 L1025,360.7 L1024,357 L1021.5,368.2 L1021,369.1 L1020.5,368.5 L1020,367 L1018,357.5 L1017.5,357.1 L1015,365.7 L1014,359.5 L1012.5,345.8 L1011.5,342.4 L1010.5,346.8 L1009.5,355.8 L1008,377Z" fill="#a970fa" />
<path d="M1028,437.5 L1029.5,471 L1030.5,479 L1031,478.9 L1032,476.1 L1033.5,474.1 L1034,474.6 L1035.5,479.6 L1036,479.5 L1037.5,477.5 L1039,473 L1039.5,472.2 L1041,476.8 L1042.5,486.2 L1043.5,490.9 L1046,497.2 L1046,499.3 L1043.5,493.1 L1042.5,488.5 L1041,479.1 L1039.5,474.7 L1039,475.4 L1037.5,480 L1036,482.1 L1035.5,482.2 L1034,477.2 L1033.5,476.8 L1032,478.8 L1031,481.7 L1030.5,481.5 L1029.5,473 L1028,439.1Z" fill="#ffb35c" />
<path d="M1046,497.2 L1046.5,497.9 L1049.5,499.5 L1052.5,500.2 L1055.5,531.5 L1058.5,537.3 L1061,541.1 L1061.5,539.8 L1063.5,525.8 L1064,523.8 L1066.5,521.3 L1069.5,519 L1072.5,504 L1079.5,500.2 L1082,511.5 L1084,507.1 L1086.5,489.6 L1088.5,481.2 L1089,480.2 L1092,480.2 L1094.5,494 L1097,501.5 L1100,506.5 L1103.5,507 L1104,509.9 L1105,521.5 L1107.5,541.5 L1110,539 L1113,534 L1115.5,516.5 L1118,494 L1120.5,476.5 L1122.5,459 L1125,456.5 L1128,449 L1130.5,444 L1132.5,461.5 L1134.5,440.5 L1135.5,436.3 L1136,436.1 L1137.5,441.5 L1142.5,476.5 L1145,491.5 L1147.5,489 L1149.5,499 L1152,505.2 L1154.5,506.5 L1156.5,530.2 L1159,542.2 L1161.5,549.2 L1163.5,551.2 L1164,551.2 L1166,549.2 L1166.5,549.5 L1169.5,555.2 L1172.5,549 L1175.5,544 L1178,542.8 L1180,526.5 L1182,520.2 L1184.5,519 L1187.5,506.5 L1190,494 L1191,491 L1191.5,490.2 L1191.5,490.9 L1191,491.7 L1190,494.8 L1187.5,507.4 L1184.5,520.1 L1182,521.4 L1180,527.7 L1178,544 L1175.5,545.3 L1172.5,550.4 L1169.5,556.7 L1166.5,550.9 L1166,550.7 L1164,552.7 L1163.5,552.8 L1161.5,550.8 L1159,543.8 L1156.5,531.9 L1154.5,508.1 L1152,506.9 L1149.5,500.7 L1147.5,490.7 L1145,493.2 L1142.5,478.2 L1137.5,443.2 L1136,437.8 L1135.5,438 L1134.5,442.2 L1132.5,463.4 L1130.5,446 L1128,451.1 L1125,458.8 L1122.5,461.4 L1120.5,479 L1118,496.6 L1115.5,519.2 L1113,536.7 L1110,541.8 L1107.5,544.4 L1105,524.5 L1104,512.9 L1103.5,510 L1100,509.5 L1097,504.4 L1094.5,496.9 L1092,483.1 L1089,483.1 L1088.5,484 L1086.5,492.4 L1084,509.8 L1082,514.2 L1079.5,502.9 L1072.5,506.5 L1069.5,521.4 L1066.5,523.6 L1064,526 L1063.5,527.9 L1061.5,541.9 L1061,543.2 L1058.5,539.4 L1055.5,533.6 L1052.5,502.4 L1049.5,501.6 L1046.5,500 L1046,499.3Z" fill="#a970fa" />
<path d="M68.5,306.2 L69,308.7 L72,337.5 L75.5,412.5 L77.5,416.2 L83,432.5 L85.5,435.9 L88,440.8 L88.5,445.4 L90,470 L91,481.2 L91.5,483.5 L101,465 L101.5,464.6 L103,465.2 L104.5,449 L106,424.1 L107.5,418.8 L110,417 L113.5,417.5 L114,417.1 L116,414.1 L118,405 L119.5,375 L121,335.5 L122.5,323.8 L125,315.5 L126.5,327.5 L128,350 L129,353.8 L130.5,315.6 L131.5,300 L133,220.3 L133.5,206.8 L134,204.6 L137.5,203 L139.5,208 L142,232.4 L143.5,279.3 L145,305 L147,310 L148.5,318.6 L150.5,334 L152,340 L153,354 L153.5,366 L155.5,430 L157.5,446.2 L160,443 L163,447.5 L166,456.7 L169,463.2 L169.5,461.4 L172,438.2 L174,423.8 L174.5,422.3 L177,425 L183.5,381.7 L184,379.6 L187,374.2 L190,377 L193,387.5 L195,417.5 L197,425 L199,416.6 L199.5,417.3 L204,450.8 L207.5,461.2 L211,470.6 L211.5,470.8 L215,465 L221,441 L221.5,439.6 L223.5,436.6 L224,429 L225,400 L226,290 L227,250 L228.5,239.3 L231.5,211.6 L233.5,204.6 L234,203.4 L236,200.4 L236.5,196.4 L238,175 L239.5,163.8 L241,173.4 L242.5,200 L246,223.2 L247.5,300 L249,418.5 L249.5,437.3 L256,444.7 L260.5,459.2 L261,456 L262,440 L263,400 L265,380 L267.5,373.8 L271,373.3 L275,371.2 L276.5,350 L278,315 L279.5,301.2 L281,306.6 L283,322.8 L287,401 L288.5,407 L289,407.9 L292.5,406.8 L296,409.8 L298.5,419 L300,440 L301,466 L301.5,472.4 L306,469.6 L310,468.8 L313.5,474.6 L314,472.9 L315.5,460 L316.5,454.4 L317,454.2 L319,463.1 L320.5,467 L322.5,460 L325.5,440.8 L329,442.9 L332.5,442 L336,444.3 L340,448 L342.5,453.8 L347,484 L353.5,486.4 L356,487.6 L356.5,489.1 L359,502.5 L361.5,511.9 L365,517.8 L370,520.2 L375,517.8 L379.5,513.5 L380,514 L383,513.5 L385,499 L387,476.5 L390,469 L392.5,456.5 L395.5,453.5 L400,453.5 L403.5,452.8 L406,451.2 L406.5,453.6 L407.5,464 L409.5,491.5 L412.5,494 L415.5,519 L418,497.8 L421,501.2 L423.5,502.6 L424,501.1 L426,488.1 L426.5,486.4 L433,484 L435,459 L437,441 L440,446.5 L443.5,450 L447,452.8 L450,472.8 L453.5,473.9 L456,479.6 L459,518.2 L461,532.2 L461.5,532 L462.5,524 L465,509 L467.5,481.5 L471,480.3 L471.5,479.5 L478.5,458.5 L481,452.1 L481.5,451.4 L483.5,450.4 L484,451.1 L486,458.1 L486.5,461 L488.5,477 L490,497.8 L494,500.5 L497.5,503.5 L500,497 L504,496.6 L507.5,498.5 L510,501 L512.5,502 L517,500.2 L520,509 L522.5,526.5 L525,534 L528.5,529.3 L532,520.2 L535,518.2 L538,517.8 L540,484 L541.5,467.2 L542.5,460 L545,442.5 L547.5,427.5 L550,430 L552.5,417.5 L557,377.5 L558,374.2 L560,377.5 L562,395 L564,427.1 L565.5,440 L567.5,452.5 L570,460 L574.5,478.8 L576,497.1 L577.5,501 L587.5,471.5 L591,462.2 L594.5,457 L598,456.5 L601,485.4 L601.5,489 L604,501 L608.5,513.4 L609,513.6 L611.5,510.1 L613.5,509.1 L614,510.2 L615.5,517.8 L616,515.8 L617.5,496.5 L620,471.5 L622.5,462.8 L630,452.8 L632,451 L634,462.5 L636,470.5 L636.5,471.9 L638.5,474.9 L640,496.5 L641,508.5 L641.5,511 L644,506.2 L647,502 L650,505.2 L652.5,514 L656.5,515.3 L661,516 L661.5,516.8 L663.5,523.2 L666.5,540 L668.5,548 L669,549 L674,548.9 L678.5,547.8 L679,547.1 L681.5,540.2 L686,517.8 L686.5,516.2 L689,513.1 L691.5,495.5 L693.5,487.5 L694,486.2 L697.5,482.8 L700,481 L703,482.8 L706,490.8 L708.5,509.5 L709,509.7 L710.5,499 L712,482.8 L715.5,505.2 L719,510.5 L722.5,514.5 L726,515.9 L730,516.5 L733.5,463.6 L734,459.9 L737,455.2 L744,458.6 L752.5,460.2 L754,499.8 L756,525.8 L756.5,529.1 L760,530.2 L765,496.5 L768.5,491.8 L771.5,482.1 L773.5,477.1 L774,477.6 L776,486.6 L778.5,495.6 L779,495.9 L782.5,487.8 L785,500.2 L787.5,494 L790,482.8 L793.5,481.6 L794,479.8 L796,465.8 L798.5,451.6 L799,449.8 L801,445.8 L801.5,445.6 L804.5,450.2 L807.5,452.8 L810,475.2 L812.5,490.2 L816,485.6 L816.5,487.6 L819,510.8 L821.5,526.9 L825,532.8 L828.5,536.2 L829,536.2 L832.5,531.5 L836.5,539.3 L840,544 L843.5,545.2 L844,544.2 L847.5,529 L852.5,525.2 L855,506.5 L857,497.8 L860,499 L863.5,497.8 L864,498.2 L866.5,503.6 L869.5,514 L872.5,516.5 L874.5,504 L876,500.1 L876.5,502.3 L878,519 L881,527.1 L881.5,527.8 L885,529 L886.5,494.8 L889,478.6 L891.5,475.1 L893.5,474.1 L894,475.8 L896,489.8 L896.5,491.4 L898.5,490.4 L899,489.8 L902.5,484 L905,484 L907.5,489 L909.5,506.5 L911.5,481.5 L913.5,461.5 L914,458.1 L916,451.1 L916.5,450.2 L920,449 L922.5,456.5 L925,457.8 L927,447 L928.5,442.8 L930.5,454 L932.5,481.5 L937.5,534 L940,530.2 L942.5,511.5 L945,506.5 L947.5,506.5 L950,516.5 L953,474 L956,478.6 L956.5,479 L959.5,479 L960,480 L965,474.4 L968,477.4 L969.5,444.2 L970.5,398.2 L971.5,381.6 L972,385 L973,400.6 L974.5,436.6 L975.5,429.6 L976,429.5 L977.5,432.5 L978.5,416.5 L979.5,385.1 L980.5,375.6 L981,374.1 L981.5,373.8 L983,377.2 L984,381 L985.5,391.5 L986.5,422 L987.5,407.4 L989.5,406.4 L990.5,407.4 L992,453.1 L992.5,464.3 L993,467.9 L993.5,468.7 L995,468.5 L996,467.7 L996.5,464 L997.5,450 L999,437.5 L999.5,435.9 L1002,470.5 L1003,474.5 L1004.5,446.4 L1006,407.5 L1006.5,407.5 L1007,403.6 L1008.5,367.5 L1009.5,353.9 L1010.5,344.9 L1011.5,340.5 L1012.5,343.9 L1014,357.5 L1015,363.8 L1017.5,355.1 L1018,355.5 L1020,365 L1020.5,366.6 L1021,367.2 L1021.5,366.2 L1024,355 L1025,358.8 L1025.5,364.6 L1027,415 L1029,461.4 L1029.5,471 L1030.5,479 L1031,478.9 L1032,476.1 L1033.5,474.1 L1034,474.6 L1035.5,479.6 L1036,479.5 L1037.5,477.5 L1039,473 L1039.5,472.2 L1041,476.8 L1042.5,486.2 L1043.5,490.9 L1046,497.2 L1046.5,497.9 L1049.5,499.5 L1052.5,500.2 L1055.5,531.5 L1058.5,537.3 L1061,541.1 L1061.5,539.8 L1063.5,525.8 L1064,523.8 L1066.5,521.3 L1069.5,519 L1072.5,504 L1079.5,500.2 L1082,511.5 L1084,507.1 L1087,486.8 L1088.5,481.2 L1089,480.2 L1092,480.2 L1094.5,494 L1097,501.5 L1100,506.5 L1103.5,507 L1104,509.9 L1105,521.5 L1107.5,541.5 L1110,539 L1113,534 L1115.5,516.5 L1118,494 L1120.5,476.5 L1122.5,459 L1125,456.5 L1128,449 L1130.5,444 L1132.5,461.5 L1134,444.4 L1134.5,440.5 L1135.5,436.3 L1136,436.1 L1137.5,441.5 L1142.5,476.5 L1145,491.5 L1147.5,489 L1149.5,499 L1152,505.2 L1154.5,506.5 L1156.5,530.2 L1158.5,540.2 L1161,548.2 L1161.5,549.2 L1163.5,551.2 L1164,551.2 L1166,549.2 L1166.5,549.5 L1169.5,555.2 L1172.5,549 L1175.5,544 L1178,542.8 L1180,526.5 L1182,520.2 L1184.5,519 L1187.5,506.5 L1190,494 L1191,491 L1191.5,490.2" fill="none" stroke="#c9b27a" stroke-opacity="0.55" stroke-width="0.8"/>
<path d="M68.6,260.5 L69.8,251.2 L72.0,254.0 L75.5,255.0 L78.8,260.0 L82.0,266.2 L85.0,266.2 L88.0,256.2 L91.2,244.5 L93.8,246.2 L100.0,243.0 L103.8,251.2 L107.0,246.2 L109.5,255.0 L112.5,245.5 L118.8,245.8 L122.5,254.5 L125.5,253.8 L129.5,247.0 L135.0,241.2 L138.0,240.8 L141.2,232.5 L143.8,229.5 L145.0,237.5 L146.8,255.0 L149.5,259.5 L153.0,258.8 L156.2,266.2 L158.8,265.0 L162.5,260.0 L165.5,264.5 L168.8,255.0 L171.8,250.0 L175.0,251.2 L177.5,253.8 L181.2,249.5 L183.8,253.8 L186.2,270.0 L190.0,288.8 L193.8,272.5 L196.2,266.2 L199.2,276.2 L203.0,277.0 L206.2,275.0 L209.2,280.0 L212.5,286.8 L215.5,284.5 L218.0,272.5 L221.2,250.0 L224.5,251.2 L227.5,249.5 L230.5,243.8 L233.8,230.0 L236.8,217.5 L239.5,223.0 L242.0,224.2 L245.0,221.2 L248.0,220.5 L251.8,209.5 L255.0,213.8 L258.0,209.5 L260.8,209.0 L263.8,193.8 L267.0,195.5 L270.0,193.0 L273.2,191.2 L276.2,183.8 L279.5,176.8 L282.5,188.8 L285.8,195.8 L288.8,194.5 L292.0,195.0 L295.0,188.0 L298.2,197.0 L301.2,203.8 L304.5,196.2 L307.5,190.5 L310.8,192.0 L313.8,193.8 L316.8,194.5 L320.0,187.0 L323.0,187.5 L326.2,193.0 L329.2,194.5 L332.5,193.0 L335.5,186.2 L338.5,172.0 L341.8,173.8 L344.5,180.8 L347.5,181.2 L350.8,183.0 L353.8,182.0 L356.8,179.5 L360.0,186.2 L363.0,197.0 L366.0,197.5 L369.2,210.8 L372.5,205.0 L375.5,200.0 L378.0,203.8 L380.0,208.8 L381.8,213.0 L384.5,208.0 L387.5,209.5 L390.5,203.0 L393.8,224.2 L396.8,221.2 L400.0,211.2 L403.0,207.5 L406.2,210.5 L409.2,210.0 L412.5,213.8 L415.5,225.0 L418.8,245.8 L421.8,245.0 L425.0,238.8 L428.0,238.0 L431.2,238.8 L434.2,250.5 L437.5,254.2 L440.5,243.8 L443.5,240.5 L446.5,256.8 L449.8,248.8 L452.8,246.8 L455.8,252.0 L459.0,259.0 L462.2,255.5 L465.2,256.8 L468.2,256.2 L471.2,246.2 L474.2,247.0 L477.5,237.5 L480.5,237.0 L483.5,238.0 L486.5,237.5 L489.5,238.0 L492.5,252.0 L495.8,258.2 L499.0,254.5 L502.0,259.0 L505.0,252.0 L508.2,253.0 L511.2,256.8 L514.5,260.8 L517.5,272.5 L520.5,275.0 L523.8,284.0 L527.0,283.2 L530.0,282.0 L533.0,282.0 L536.2,276.2 L538.8,271.2 L542.0,278.2 L545.0,275.0 L548.0,274.2 L551.2,275.0 L554.5,279.5 L557.5,279.2 L560.5,282.5 L563.8,288.8 L566.8,313.8 L570.0,323.2 L573.0,315.5 L576.2,313.0 L579.2,311.2 L582.5,311.2 L585.5,309.5 L588.8,305.5 L591.8,303.8 L594.5,304.2 L597.5,301.2 L600.8,300.0 L603.8,311.2 L607.0,311.2 L610.0,284.5 L613.0,284.5 L616.2,279.5 L619.2,271.8 L622.5,270.5 L625.5,269.2 L628.8,273.0 L631.8,278.8 L635.0,280.5 L638.0,280.0 L641.2,277.5 L644.2,267.5 L647.2,270.5 L650.2,288.8 L653.2,292.5 L656.5,292.0 L659.5,301.8 L662.8,310.8 L665.8,303.0 L668.8,308.2 L671.8,302.5 L675.0,297.5 L678.0,298.8 L681.2,306.2 L684.2,275.0 L687.5,269.2 L690.5,271.2 L693.5,277.5 L696.5,297.5 L700.0,296.2 L703.0,301.2 L706.0,303.8 L709.0,298.8 L712.0,281.8 L715.0,295.8 L718.2,299.5 L721.2,300.8 L724.5,305.5 L727.5,295.0 L730.5,296.2 L733.8,286.2 L736.8,287.0 L740.0,282.0 L743.0,280.5 L746.2,285.5 L749.2,286.8 L752.5,280.0 L755.5,276.2 L758.8,270.8 L761.8,268.2 L765.0,267.5 L768.0,256.2 L771.0,254.2 L774.0,253.0 L777.0,255.5 L780.0,262.0 L783.2,259.5 L786.2,260.0 L789.5,258.0 L792.5,257.5 L795.5,263.0 L798.5,274.2 L801.8,273.0 L804.8,280.0 L807.8,277.5 L810.8,280.0 L814.0,295.5 L817.0,291.2 L820.0,287.0 L823.0,292.5 L826.2,289.2 L829.2,290.0 L832.5,294.2 L835.5,288.0 L838.5,284.5 L841.8,285.0 L844.8,288.8 L848.0,293.2 L851.0,295.5 L854.0,295.8 L857.0,290.0 L860.2,303.2 L863.2,297.5 L866.2,294.5 L869.5,300.5 L872.5,306.0 L875.8,301.8 L878.8,301.2 L881.8,306.0 L885.0,295.0 L888.0,312.5 L891.0,316.2 L894.2,320.0 L897.2,330.0 L900.2,355.0 L903.2,351.2 L906.5,367.5 L909.5,366.2 L912.5,365.0 L915.8,358.8 L918.8,350.0 L922.0,359.2 L925.0,357.0 L928.0,368.0 L931.0,357.5 L934.2,363.8 L937.5,361.8 L940.5,357.0 L943.8,365.0 L946.8,362.0 L949.8,363.0 L953.0,365.5 L956.2,370.0 L959.2,366.8 L962.5,363.8 L965.0,347.0 L968.2,345.5 L971.2,360.0 L974.2,356.2 L977.5,361.2 L980.5,360.5 L983.8,360.0 L986.8,349.5 L990.0,350.5 L993.0,357.5 L996.2,358.8 L999.2,361.2 L1002.5,371.2 L1005.5,385.0 L1008.8,421.2 L1011.8,427.5 L1015.0,426.2 L1018.0,442.5 L1021.2,449.5 L1024.2,465.0 L1027.5,447.5 L1030.5,446.2 L1033.8,445.0 L1036.8,451.8 L1040.0,440.5 L1043.0,438.8 L1046.2,437.0 L1049.2,442.5 L1052.5,445.0 L1055.5,450.0 L1058.8,452.5 L1061.8,457.5 L1065.0,461.2 L1068.0,462.0 L1071.2,460.5 L1074.2,450.0 L1077.5,449.5 L1080.5,442.5 L1083.8,433.8 L1086.8,433.0 L1090.0,437.5 L1093.0,447.5 L1096.2,455.0 L1098.8,461.2 L1102.0,452.5 L1105.0,448.8 L1108.2,443.8 L1111.2,440.0 L1113.8,444.2 L1117.0,427.5 L1120.0,417.0 L1123.0,416.2 L1126.2,418.8 L1129.5,423.0 L1132.5,425.5 L1135.8,425.0 L1138.8,438.8 L1141.8,439.5 L1145.0,420.0 L1148.0,412.5 L1151.2,413.0 L1154.2,414.5 L1157.5,417.5 L1160.5,418.0 L1163.8,421.2 L1166.8,422.0 L1169.5,424.5 L1172.5,418.8 L1175.8,420.8 L1178.8,418.2 L1181.8,413.0 L1184.5,418.8 L1187.5,412.5 L1190.5,411.2 L1193.8,412.0 L1195.0,412.5" fill="none" stroke="#262626" stroke-width="1.65" stroke-linejoin="round" stroke-linecap="round"/>
<line x1="1201.25" x2="1201.25" y1="132.3" y2="614" stroke="#2e2e2e" stroke-width="1.9"/>
<line x1="128" x2="128" y1="614" y2="622" stroke="#ededed"/><text x="128" y="630.6" class="ax" text-anchor="middle">Sep '21</text>
<line x1="220.7" x2="220.7" y1="614" y2="622" stroke="#ededed"/><text x="220.7" y="630.6" class="ax" text-anchor="middle">Oct '21</text>
<line x1="316.5" x2="316.5" y1="614" y2="622" stroke="#ededed"/><text x="316.5" y="630.6" class="ax" text-anchor="middle">Nov '21</text>
<line x1="409.2" x2="409.2" y1="614" y2="622" stroke="#ededed"/><text x="409.2" y="630.6" class="ax" text-anchor="middle">Dec '21</text>
<line x1="505" x2="505" y1="614" y2="622" stroke="#ededed"/><text x="505" y="630.6" class="ax" text-anchor="middle">Jan '22</text>
<line x1="600.8" x2="600.8" y1="614" y2="622" stroke="#ededed"/><text x="600.8" y="630.6" class="ax" text-anchor="middle">Feb '22</text>
<line x1="687.3" x2="687.3" y1="614" y2="622" stroke="#ededed"/><text x="687.3" y="630.6" class="ax" text-anchor="middle">Mar '22</text>
<line x1="783.1" x2="783.1" y1="614" y2="622" stroke="#ededed"/><text x="783.1" y="630.6" class="ax" text-anchor="middle">Apr '22</text>
<line x1="875.8" x2="875.8" y1="614" y2="622" stroke="#ededed"/><text x="875.8" y="630.6" class="ax" text-anchor="middle">May '22</text>
<line x1="971.6" x2="971.6" y1="614" y2="622" stroke="#ededed"/><text x="971.6" y="630.6" class="ax" text-anchor="middle">Jun '22</text>
<line x1="1064.3" x2="1064.3" y1="614" y2="622" stroke="#ededed"/><text x="1064.3" y="630.6" class="ax" text-anchor="middle">Jul '22</text>
<line x1="1160.1" x2="1160.1" y1="614" y2="622" stroke="#ededed"/><text x="1160.1" y="630.6" class="ax" text-anchor="middle">Aug '22</text>
<text x="55.5" y="612.6999999999999" class="ay" text-anchor="end">0</text>
<text x="55.5" y="492.8" class="ay" text-anchor="end">100</text>
<text x="55.5" y="372.6" class="ay" text-anchor="end">200</text>
<text x="55.5" y="252.0" class="ay" text-anchor="end">300</text>
<text x="1209.5" y="291.3" class="ay">$40k</text>
<text x="1209.5" y="611.8" class="ay">$10k</text>
<g stroke="#f5145c" stroke-width="2.8" fill="none" stroke-linecap="butt">
<path d="M845,521.5 L1008.2,356" stroke-width="2.5"/><path d="M996,356 L1008.2,356 L1008.2,368.2" stroke-width="2.4"/>
</g>
<g stroke="#0a50f5" stroke-width="2.5" fill="none" stroke-linecap="butt" stroke-linejoin="miter">
<path d="M1031,360.7 L1192.9,460"/><path d="M1190.6,449.3 L1192.95,460 L1181.9,463.8"/>
<path d="M1061,531.5 L1133.4,439.7"/><path d="M1121.25,439.9 L1133.4,439.7 L1133.7,450.3"/>
<path d="M1162,551.5 L1193.3,481.8"/><path d="M1182.5,485.6 L1193.3,481.8 L1197.6,492.3"/>
</g>
<text class="red" text-anchor="middle"><tspan x="760" y="392.5">Increasing Miner Liquidations</tspan><tspan x="760" y="420.5">After LUNA Collapse</tspan></text>
<text class="blue" text-anchor="middle"><tspan x="1077" y="274.7">Gradually Declining</tspan><tspan x="1077" y="304">Stress on Miners</tspan><tspan x="1077" y="333.2">As Prices Rise</tspan></text>
</svg>
<div id="foot">© 2022 Glassnode. All Rights Reserved.</div>
<div id="logo">glassnode</div>
</body></html>
